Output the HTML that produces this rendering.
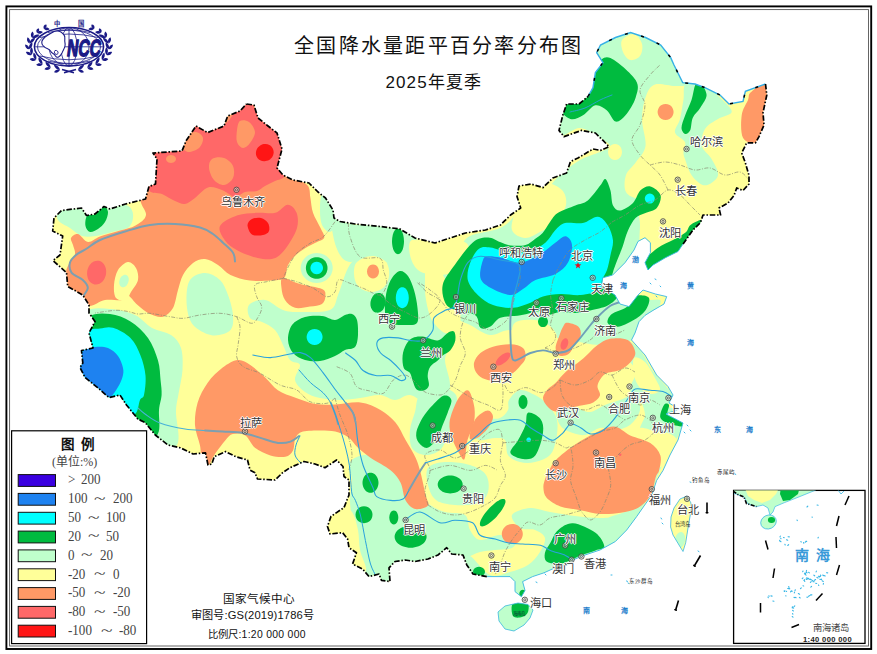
<!DOCTYPE html>
<html lang="zh-CN"><head><meta charset="utf-8"><title>全国降水量距平百分率分布图</title>
<style>
html,body{margin:0;padding:0;background:#fff;}
body{width:877px;height:654px;overflow:hidden;position:relative;font-family:"Liberation Sans",sans-serif;}
svg{position:absolute;left:0;top:0;}
.t{position:absolute;white-space:nowrap;color:#111;line-height:1;}
.city{position:absolute;white-space:nowrap;font-family:"Liberation Serif",serif;font-size:11.2px;line-height:1;color:#333;text-shadow:0 0 1px #fff,0 0 1px #fff,1px 0 0 #fff,-1px 0 0 #fff,0 1px 0 #fff,0 -1px 0 #fff;}
.sea{position:absolute;white-space:nowrap;font-size:7px;line-height:1;color:#1f80cc;font-weight:bold;}
.lg{position:absolute;white-space:nowrap;font-family:"Liberation Serif",serif;font-size:12.8px;line-height:1;color:#444;}
</style></head><body>
<svg width="877" height="654" viewBox="0 0 877 654">
<defs><clipPath id="cn"><path d="M246.5 104.0L254.0 105.0L258.0 118.0L268.0 126.0L277.0 133.0L282.0 149.0L277.0 168.0L283.0 175.0L293.0 180.0L309.0 183.0L318.0 192.0L325.5 198.0L333.0 210.0L334.0 218.0L340.0 221.5L355.0 224.0L380.0 226.5L400.0 229.0L415.0 238.0L435.0 243.0L450.0 238.0L465.5 233.0L485.5 230.0L500.5 225.0L510.5 215.0L520.7 208.0L517.0 196.5L519.0 186.0L531.0 184.0L543.0 187.6L552.8 178.0L566.6 173.0L570.4 161.7L578.0 158.0L593.0 149.0L600.5 150.4L609.0 146.7L603.0 140.4L595.4 133.0L581.6 130.4L564.0 136.6L559.0 130.4L562.8 115.3L566.6 104.0L579.0 104.0L588.0 96.5L593.0 87.7L595.4 72.6L603.0 62.6L596.7 52.6L600.5 45.0L615.5 37.5L630.6 32.5L645.6 37.5L660.7 45.0L670.7 57.6L674.0 65.0L682.7 82.6L695.0 84.0L705.0 87.6L720.0 95.0L729.0 104.0L743.0 101.4L745.4 91.4L765.5 84.0L766.8 95.0L763.0 112.7L764.0 125.0L759.0 136.6L755.5 142.8L746.7 142.8L741.7 153.0L745.4 163.0L749.0 175.4L749.0 184.0L743.0 190.5L736.7 188.0L734.0 195.5L728.0 203.0L719.0 208.0L720.6 215.0L703.0 215.0L700.5 222.6L693.0 230.0L683.0 244.0L678.0 251.5L665.4 257.7L653.0 265.0L648.0 270.0L645.0 262.7L650.4 252.7L650.4 242.7L645.0 237.7L638.0 241.4L634.0 250.0L625.0 262.7L612.7 275.0L602.7 277.8L601.5 286.6L615.0 295.0L620.0 304.0L629.0 306.6L638.0 295.0L643.0 290.0L655.4 294.0L666.7 296.6L664.0 304.0L653.0 310.4L645.0 315.4L639.0 321.7L635.0 333.0L631.5 340.0L645.0 355.0L656.6 375.0L668.0 386.5L673.0 395.0L669.0 403.0L679.0 409.0L666.0 414.0L683.0 423.0L678.0 440.0L670.0 455.0L663.0 470.5L656.6 480.5L651.8 495.0L644.0 506.0L636.8 516.4L626.7 530.0L615.4 541.5L600.0 550.0L585.0 555.0L575.0 559.0L570.0 564.0L555.0 567.8L544.0 572.8L532.6 576.6L522.6 581.6L525.0 590.4L521.4 596.7L515.0 591.6L515.0 581.6L510.0 576.6L490.0 576.6L486.8 576.6L473.0 574.0L466.8 565.0L463.0 555.0L451.7 554.0L446.7 547.7L438.0 555.0L428.0 559.0L415.0 561.5L405.0 560.0L395.0 561.5L389.0 567.8L390.0 581.6L381.5 580.4L379.0 574.0L369.0 576.6L362.6 569.0L352.6 564.0L356.4 552.8L349.0 547.7L347.6 539.0L342.6 532.7L330.0 534.0L327.5 526.4L331.0 516.4L344.0 507.6L349.0 495.0L349.0 480.0L344.0 476.5L343.0 466.5L336.6 460.0L325.0 467.7L315.0 464.0L304.0 461.5L290.0 467.7L282.6 472.7L275.0 480.0L257.5 479.0L255.0 472.7L250.0 470.0L247.5 460.0L235.6 456.6L225.6 451.6L214.3 456.6L211.8 464.0L208.0 465.0L205.5 452.8L193.0 454.0L180.4 447.8L168.0 445.0L155.3 435.0L145.3 422.7L137.8 419.0L126.5 405.0L120.0 395.0L109.0 397.6L97.6 387.6L85.0 377.5L80.0 367.5L82.8 363.0L81.5 350.5L93.0 348.0L89.0 333.0L95.0 321.5L89.0 313.0L89.0 305.0L82.8 295.0L67.7 286.5L66.5 272.6L53.0 260.6L60.0 255.0L62.7 236.0L52.7 231.0L54.0 218.0L61.5 210.5L81.5 208.0L86.5 215.5L95.0 214.0L104.0 206.5L110.0 209.0L125.5 204.0L145.5 199.0L149.0 186.5L155.5 184.0L157.0 159.0L153.0 153.0L182.0 151.0L186.0 141.0L196.0 126.0L207.6 132.6L224.0 126.0L227.7 116.0L240.0 111.0L246.5 104.0ZM518.0 603.0L528.0 604.5L533.0 610.0L530.0 618.0L524.0 625.0L514.0 631.0L505.0 629.0L499.0 621.0L498.0 612.0L505.0 606.0ZM687.0 496.0L691.0 503.0L690.7 512.6L688.0 528.0L685.7 542.7L683.0 551.5L679.0 545.0L673.0 535.0L670.6 527.0L671.0 517.0L674.0 508.0L680.0 499.0Z"/></clipPath><clipPath id="ins"><rect x="734" y="490.5" width="131" height="153"/></clipPath></defs>
<rect width="877" height="654" fill="#fff"/>
<g clip-path="url(#cn)">
<rect x="40" y="20" width="740" height="620" fill="#ffff99"/>
<path d="M249.0 305.0C251.5 302.0 259.3 299.2 265.0 300.0C270.7 300.8 277.2 308.0 283.0 310.0C288.8 312.0 292.2 312.0 300.0 312.0C307.8 312.0 323.7 312.8 330.0 310.0C336.3 307.2 335.5 300.8 338.0 295.0C340.5 289.2 342.7 280.5 345.0 275.0C347.3 269.5 348.7 265.3 352.0 262.0C355.3 258.7 360.3 255.0 365.0 255.0C369.7 255.0 375.0 260.8 380.0 262.0C385.0 263.2 390.0 262.7 395.0 262.0C400.0 261.3 405.0 258.0 410.0 258.0C415.0 258.0 421.7 259.2 425.0 262.0C428.3 264.8 429.5 268.7 430.0 275.0C430.5 281.3 427.7 292.5 428.0 300.0C428.3 307.5 429.2 315.0 432.0 320.0C434.8 325.0 442.0 325.8 445.0 330.0C448.0 334.2 450.0 340.0 450.0 345.0C450.0 350.0 445.0 353.3 445.0 360.0C445.0 366.7 450.0 376.7 450.0 385.0C450.0 393.3 447.5 404.2 445.0 410.0C442.5 415.8 438.3 420.8 435.0 420.0C431.7 419.2 429.2 409.2 425.0 405.0C420.8 400.8 415.0 395.8 410.0 395.0C405.0 394.2 400.0 400.0 395.0 400.0C390.0 400.0 385.8 395.3 380.0 395.0C374.2 394.7 366.7 397.2 360.0 398.0C353.3 398.8 346.7 400.0 340.0 400.0C333.3 400.0 325.8 399.3 320.0 398.0C314.2 396.7 309.2 395.0 305.0 392.0C300.8 389.0 295.8 384.5 295.0 380.0C294.2 375.5 300.8 368.3 300.0 365.0C299.2 361.7 292.8 363.3 290.0 360.0C287.2 356.7 285.5 350.0 283.0 345.0C280.5 340.0 278.5 333.8 275.0 330.0C271.5 326.2 266.2 324.0 262.0 322.0C257.8 320.0 252.2 320.8 250.0 318.0C247.8 315.2 246.5 308.0 249.0 305.0Z" fill="#bfffcc"/>
<path d="M332.7 268.0C332.7 270.5 331.9 273.3 330.6 275.5C329.2 277.7 327.0 279.7 324.7 281.0C322.4 282.2 319.4 283.0 316.7 283.0C314.0 283.0 311.0 282.2 308.7 281.0C306.4 279.7 304.2 277.7 302.8 275.5C301.5 273.3 300.7 270.5 300.7 268.0C300.7 265.5 301.5 262.7 302.8 260.5C304.2 258.3 306.4 256.3 308.7 255.0C311.0 253.8 314.0 253.0 316.7 253.0C319.4 253.0 322.4 253.8 324.7 255.0C327.0 256.3 329.2 258.3 330.6 260.5C331.9 262.7 332.7 265.5 332.7 268.0Z" fill="#bfffcc"/>
<path d="M322.0 195.0C324.0 194.2 329.7 200.5 332.0 205.0C334.3 209.5 336.3 217.5 336.0 222.0C335.7 226.5 332.3 231.5 330.0 232.0C327.7 232.5 323.7 228.7 322.0 225.0C320.3 221.3 320.0 215.0 320.0 210.0C320.0 205.0 320.0 195.8 322.0 195.0Z" fill="#bfffcc"/>
<path d="M330.0 200.0C332.0 197.8 336.7 217.7 345.0 222.0C353.3 226.3 369.2 224.3 380.0 226.0C390.8 227.7 403.7 228.8 410.0 232.0C416.3 235.2 418.0 240.3 418.0 245.0C418.0 249.7 413.0 256.2 410.0 260.0C407.0 263.8 404.2 267.7 400.0 268.0C395.8 268.3 390.8 263.7 385.0 262.0C379.2 260.3 370.8 258.0 365.0 258.0C359.2 258.0 354.2 262.5 350.0 262.0C345.8 261.5 342.8 259.5 340.0 255.0C337.2 250.5 334.7 244.2 333.0 235.0C331.3 225.8 328.0 202.2 330.0 200.0Z" fill="#bfffcc"/>
<path d="M470.0 236.0C476.7 232.7 492.5 231.5 500.0 228.0C507.5 224.5 511.7 219.7 515.0 215.0C518.3 210.3 515.0 204.2 520.0 200.0C525.0 195.8 538.3 194.2 545.0 190.0C551.7 185.8 554.2 180.0 560.0 175.0C565.8 170.0 573.3 163.8 580.0 160.0C586.7 156.2 595.0 154.3 600.0 152.0C605.0 149.7 610.0 148.3 610.0 146.0C610.0 143.7 605.0 141.0 600.0 138.0C595.0 135.0 586.7 128.5 580.0 128.0C573.3 127.5 564.0 138.0 560.0 135.0C556.0 132.0 554.3 115.8 556.0 110.0C557.7 104.2 564.3 103.3 570.0 100.0C575.7 96.7 585.7 96.7 590.0 90.0C594.3 83.3 594.3 68.0 596.0 60.0C597.7 52.0 594.3 47.3 600.0 42.0C605.7 36.7 619.2 27.5 630.0 28.0C640.8 28.5 657.0 38.3 665.0 45.0C673.0 51.7 674.5 61.5 678.0 68.0C681.5 74.5 686.5 81.0 686.0 84.0C685.5 87.0 680.2 85.9 675.0 86.0C669.8 86.1 659.8 82.8 655.0 84.5C650.2 86.2 648.2 90.2 646.0 96.0C643.8 101.8 642.1 110.7 642.0 119.0C641.9 127.3 646.5 138.8 645.5 146.0C644.5 153.2 639.2 157.2 636.0 162.0C632.8 166.8 627.7 170.0 626.0 175.0C624.3 180.0 623.8 188.0 626.0 192.0C628.2 196.0 633.3 197.7 639.0 199.0C644.7 200.3 655.2 197.3 660.0 200.0C664.8 202.7 668.0 210.0 668.0 215.0C668.0 220.0 663.0 225.8 660.0 230.0C657.0 234.2 653.3 235.0 650.0 240.0C646.7 245.0 644.2 251.7 640.0 260.0C635.8 268.3 625.0 283.3 625.0 290.0C625.0 296.7 634.2 298.3 640.0 300.0C645.8 301.7 657.5 298.0 660.0 300.0C662.5 302.0 658.3 308.3 655.0 312.0C651.7 315.7 643.8 317.3 640.0 322.0C636.2 326.7 638.7 336.2 632.0 340.0C625.3 343.8 610.3 345.0 600.0 345.0C589.7 345.0 580.0 341.7 570.0 340.0C560.0 338.3 550.0 336.7 540.0 335.0C530.0 333.3 518.3 330.0 510.0 330.0C501.7 330.0 496.7 335.8 490.0 335.0C483.3 334.2 476.7 328.3 470.0 325.0C463.3 321.7 455.3 319.2 450.0 315.0C444.7 310.8 440.0 305.8 438.0 300.0C436.0 294.2 436.3 286.3 438.0 280.0C439.7 273.7 444.3 267.3 448.0 262.0C451.7 256.7 456.3 252.3 460.0 248.0C463.7 243.7 463.3 239.3 470.0 236.0Z" fill="#bfffcc"/>
<path d="M686.0 84.0C689.6 81.8 698.5 82.9 705.0 86.0C711.5 89.1 720.6 98.3 725.0 102.7C729.4 107.1 732.7 109.9 731.5 112.6C730.3 115.3 722.4 116.3 718.0 119.0C713.6 121.7 707.7 124.5 705.0 129.0C702.3 133.4 700.6 140.7 701.7 145.7C702.8 150.7 708.9 154.1 711.6 159.0C714.3 163.9 719.1 171.0 718.0 175.4C716.9 179.8 709.4 185.3 705.0 185.3C700.6 185.3 695.1 179.8 691.8 175.4C688.5 171.0 686.4 162.9 685.0 159.0C683.6 155.1 683.5 154.8 683.5 152.0C683.5 149.2 686.4 145.3 685.0 142.0C683.6 138.7 675.8 136.2 675.0 132.4C674.2 128.6 678.6 124.5 680.0 119.0C681.4 113.5 682.5 105.2 683.5 99.4C684.5 93.6 682.4 86.2 686.0 84.0Z" fill="#bfffcc"/>
<path d="M622.0 40.0C623.8 37.0 630.7 33.3 634.0 34.0C637.3 34.7 641.0 40.3 642.0 44.0C643.0 47.7 642.0 53.3 640.0 56.0C638.0 58.7 632.8 60.7 630.0 60.0C627.2 59.3 624.3 55.3 623.0 52.0C621.7 48.7 620.2 43.0 622.0 40.0Z" fill="#ffff99"/>
<path d="M520.0 180.0C524.7 177.8 538.0 180.3 545.0 182.0C552.0 183.7 558.5 186.2 562.0 190.0C565.5 193.8 567.0 199.7 566.0 205.0C565.0 210.3 560.3 217.5 556.0 222.0C551.7 226.5 545.2 229.3 540.0 232.0C534.8 234.7 529.7 238.3 525.0 238.0C520.3 237.7 513.7 234.7 512.0 230.0C510.3 225.3 514.2 215.8 515.0 210.0C515.8 204.2 516.2 200.0 517.0 195.0C517.8 190.0 515.3 182.2 520.0 180.0Z" fill="#ffff99"/>
<path d="M622.0 152.0C622.0 153.3 621.6 154.8 621.1 156.0C620.5 157.2 619.5 158.3 618.5 158.9C617.5 159.6 616.2 160.0 615.0 160.0C613.8 160.0 612.5 159.6 611.5 158.9C610.5 158.3 609.5 157.2 608.9 156.0C608.4 154.8 608.0 153.3 608.0 152.0C608.0 150.7 608.4 149.2 608.9 148.0C609.5 146.8 610.5 145.7 611.5 145.1C612.5 144.4 613.8 144.0 615.0 144.0C616.2 144.0 617.5 144.4 618.5 145.1C619.5 145.7 620.5 146.8 621.1 148.0C621.6 149.2 622.0 150.7 622.0 152.0Z" fill="#ffff99"/>
<path d="M640.0 205.0C643.3 200.5 653.3 198.0 660.0 198.0C666.7 198.0 673.3 202.2 680.0 205.0C686.7 207.8 698.3 211.2 700.0 215.0C701.7 218.8 693.7 223.8 690.0 228.0C686.3 232.2 683.0 236.3 678.0 240.0C673.0 243.7 665.0 247.3 660.0 250.0C655.0 252.7 651.3 256.8 648.0 256.0C644.7 255.2 641.3 250.2 640.0 245.0C638.7 239.8 640.0 231.7 640.0 225.0C640.0 218.3 636.7 209.5 640.0 205.0Z" fill="#ffff99"/>
<path d="M625.0 340.0C628.7 340.0 635.5 345.0 640.0 350.0C644.5 355.0 648.0 364.3 652.0 370.0C656.0 375.7 660.5 379.7 664.0 384.0C667.5 388.3 672.3 392.3 673.0 396.0C673.7 399.7 667.2 403.7 668.0 406.0C668.8 408.3 678.0 408.5 678.0 410.0C678.0 411.5 667.3 412.7 668.0 415.0C668.7 417.3 680.7 419.8 682.0 424.0C683.3 428.2 678.3 434.8 676.0 440.0C673.7 445.2 670.7 450.0 668.0 455.0C665.3 460.0 662.3 465.0 660.0 470.0C657.7 475.0 655.7 480.8 654.0 485.0C652.3 489.2 652.3 490.8 650.0 495.0C647.7 499.2 644.2 504.2 640.0 510.0C635.8 515.8 629.7 524.3 625.0 530.0C620.3 535.7 616.2 540.7 612.0 544.0C607.8 547.3 603.7 550.7 600.0 550.0C596.3 549.3 589.2 545.0 590.0 540.0C590.8 535.0 599.2 524.7 605.0 520.0C610.8 515.3 619.2 514.5 625.0 512.0C630.8 509.5 635.8 508.7 640.0 505.0C644.2 501.3 647.3 495.0 650.0 490.0C652.7 485.0 654.3 480.8 656.0 475.0C657.7 469.2 661.0 460.3 660.0 455.0C659.0 449.7 653.3 447.2 650.0 443.0C646.7 438.8 640.8 434.7 640.0 430.0C639.2 425.3 645.0 420.0 645.0 415.0C645.0 410.0 642.5 404.2 640.0 400.0C637.5 395.8 630.7 394.7 630.0 390.0C629.3 385.3 636.3 377.0 636.0 372.0C635.7 367.0 631.0 363.7 628.0 360.0C625.0 356.3 618.5 353.3 618.0 350.0C617.5 346.7 621.3 340.0 625.0 340.0Z" fill="#bfffcc"/>
<path d="M634.0 358.0C635.8 355.8 641.5 358.7 645.0 362.0C648.5 365.3 652.5 373.3 655.0 378.0C657.5 382.7 660.8 387.3 660.0 390.0C659.2 392.7 653.3 394.3 650.0 394.0C646.7 393.7 642.7 391.2 640.0 388.0C637.3 384.8 635.0 380.0 634.0 375.0C633.0 370.0 632.2 360.2 634.0 358.0Z" fill="#ffff99"/>
<path d="M640.0 428.0C642.5 426.8 650.3 430.2 655.0 431.0C659.7 431.8 664.3 431.5 668.0 433.0C671.7 434.5 676.0 436.8 677.0 440.0C678.0 443.2 675.7 448.3 674.0 452.0C672.3 455.7 669.5 459.5 667.0 462.0C664.5 464.5 661.0 468.0 659.0 467.0C657.0 466.0 656.8 459.5 655.0 456.0C653.2 452.5 650.5 449.0 648.0 446.0C645.5 443.0 641.3 441.0 640.0 438.0C638.7 435.0 637.5 429.2 640.0 428.0Z" fill="#ffff99"/>
<path d="M509.0 400.0C511.0 396.7 515.7 390.8 520.0 390.0C524.3 389.2 530.3 392.5 535.0 395.0C539.7 397.5 544.3 400.8 548.0 405.0C551.7 409.2 555.7 414.2 557.0 420.0C558.3 425.8 557.2 434.2 556.0 440.0C554.8 445.8 553.5 451.3 550.0 455.0C546.5 458.7 540.0 460.8 535.0 462.0C530.0 463.2 524.5 463.2 520.0 462.0C515.5 460.8 510.5 458.7 508.0 455.0C505.5 451.3 507.2 442.8 505.0 440.0C502.8 437.2 499.2 438.0 495.0 438.0C490.8 438.0 484.0 441.0 480.0 440.0C476.0 439.0 470.2 435.3 471.0 432.0C471.8 428.7 480.2 422.3 485.0 420.0C489.8 417.7 496.2 419.7 500.0 418.0C503.8 416.3 506.5 413.0 508.0 410.0C509.5 407.0 507.0 403.3 509.0 400.0Z" fill="#bfffcc"/>
<path d="M557.0 410.0C559.5 407.2 569.5 407.7 575.0 408.0C580.5 408.3 585.0 412.5 590.0 412.0C595.0 411.5 600.0 407.0 605.0 405.0C610.0 403.0 615.0 401.7 620.0 400.0C625.0 398.3 631.7 393.3 635.0 395.0C638.3 396.7 640.8 405.0 640.0 410.0C639.2 415.0 634.2 421.7 630.0 425.0C625.8 428.3 620.0 429.5 615.0 430.0C610.0 430.5 605.0 427.2 600.0 428.0C595.0 428.8 590.0 434.3 585.0 435.0C580.0 435.7 574.2 433.7 570.0 432.0C565.8 430.3 562.2 428.7 560.0 425.0C557.8 421.3 554.5 412.8 557.0 410.0Z" fill="#bfffcc"/>
<path d="M420.0 395.0C424.2 391.0 434.0 388.0 440.0 388.0C446.0 388.0 453.5 390.5 456.0 395.0C458.5 399.5 456.3 408.3 455.0 415.0C453.7 421.7 450.5 429.2 448.0 435.0C445.5 440.8 443.8 446.7 440.0 450.0C436.2 453.3 429.7 455.3 425.0 455.0C420.3 454.7 414.5 452.2 412.0 448.0C409.5 443.8 409.5 436.0 410.0 430.0C410.5 424.0 413.3 417.8 415.0 412.0C416.7 406.2 415.8 399.0 420.0 395.0Z" fill="#bfffcc"/>
<path d="M428.0 468.0C430.8 464.2 438.0 462.5 445.0 462.0C452.0 461.5 463.2 462.8 470.0 465.0C476.8 467.2 483.0 470.5 486.0 475.0C489.0 479.5 489.3 487.3 488.0 492.0C486.7 496.7 483.5 500.8 478.0 503.0C472.5 505.2 462.0 505.5 455.0 505.0C448.0 504.5 440.5 503.3 436.0 500.0C431.5 496.7 429.3 490.3 428.0 485.0C426.7 479.7 425.2 471.8 428.0 468.0Z" fill="#bfffcc"/>
<path d="M350.0 462.0C353.0 457.8 362.5 453.7 370.0 455.0C377.5 456.3 388.3 464.2 395.0 470.0C401.7 475.8 404.2 484.2 410.0 490.0C415.8 495.8 424.2 501.3 430.0 505.0C435.8 508.7 439.2 510.3 445.0 512.0C450.8 513.7 460.8 512.0 465.0 515.0C469.2 518.0 467.5 525.8 470.0 530.0C472.5 534.2 475.0 539.2 480.0 540.0C485.0 540.8 494.2 535.0 500.0 535.0C505.8 535.0 513.0 537.8 515.0 540.0C517.0 542.2 515.3 546.3 512.0 548.0C508.7 549.7 500.3 549.3 495.0 550.0C489.7 550.7 485.0 550.7 480.0 552.0C475.0 553.3 470.0 556.7 465.0 558.0C460.0 559.3 454.2 558.8 450.0 560.0C445.8 561.2 445.0 564.2 440.0 565.0C435.0 565.8 427.5 564.2 420.0 565.0C412.5 565.8 400.8 566.7 395.0 570.0C389.2 573.3 390.0 583.3 385.0 585.0C380.0 586.7 370.8 584.2 365.0 580.0C359.2 575.8 351.7 566.7 350.0 560.0C348.3 553.3 354.7 546.7 355.0 540.0C355.3 533.3 352.8 526.7 352.0 520.0C351.2 513.3 350.0 506.7 350.0 500.0C350.0 493.3 352.0 486.3 352.0 480.0C352.0 473.7 347.0 466.2 350.0 462.0Z" fill="#bfffcc"/>
<path d="M326.0 505.0C328.7 501.3 335.7 501.8 340.0 503.0C344.3 504.2 349.0 507.5 352.0 512.0C355.0 516.5 356.7 523.7 358.0 530.0C359.3 536.3 358.7 543.3 360.0 550.0C361.3 556.7 366.8 565.8 366.0 570.0C365.2 574.2 358.5 575.8 355.0 575.0C351.5 574.2 348.8 570.0 345.0 565.0C341.2 560.0 335.5 551.7 332.0 545.0C328.5 538.3 325.0 531.7 324.0 525.0C323.0 518.3 323.3 508.7 326.0 505.0Z" fill="#ffff99"/>
<path d="M512.0 515.0C513.7 511.7 523.7 508.5 530.0 508.0C536.3 507.5 542.5 510.7 550.0 512.0C557.5 513.3 566.7 515.0 575.0 516.0C583.3 517.0 591.7 518.0 600.0 518.0C608.3 518.0 618.3 517.3 625.0 516.0C631.7 514.7 635.8 512.7 640.0 510.0C644.2 507.3 646.7 500.8 650.0 500.0C653.3 499.2 661.7 500.0 660.0 505.0C658.3 510.0 646.7 523.3 640.0 530.0C633.3 536.7 626.7 540.8 620.0 545.0C613.3 549.2 606.7 552.2 600.0 555.0C593.3 557.8 586.7 559.5 580.0 562.0C573.3 564.5 566.7 567.3 560.0 570.0C553.3 572.7 545.8 575.5 540.0 578.0C534.2 580.5 527.0 581.3 525.0 585.0C523.0 588.7 529.7 597.5 528.0 600.0C526.3 602.5 518.0 602.5 515.0 600.0C512.0 597.5 513.3 588.3 510.0 585.0C506.7 581.7 499.2 580.8 495.0 580.0C490.8 579.2 489.2 580.8 485.0 580.0C480.8 579.2 473.8 578.0 470.0 575.0C466.2 572.0 462.0 565.2 462.0 562.0C462.0 558.8 465.3 553.8 470.0 556.0C474.7 558.2 483.3 572.3 490.0 575.0C496.7 577.7 503.7 573.7 510.0 572.0C516.3 570.3 523.0 568.3 528.0 565.0C533.0 561.7 537.2 556.5 540.0 552.0C542.8 547.5 545.8 541.7 545.0 538.0C544.2 534.3 539.2 531.7 535.0 530.0C530.8 528.3 523.8 530.5 520.0 528.0C516.2 525.5 510.3 518.3 512.0 515.0Z" fill="#bfffcc"/>
<path d="M495.0 600.0L536.0 600.0L536.0 634.0L495.0 634.0Z" fill="#bfffcc"/>
<path d="M672.0 505.0C674.5 500.5 682.7 497.2 686.0 498.0C689.3 498.8 691.3 504.7 692.0 510.0C692.7 515.3 691.3 524.2 690.0 530.0C688.7 535.8 686.3 543.7 684.0 545.0C681.7 546.3 678.2 541.3 676.0 538.0C673.8 534.7 671.7 530.5 671.0 525.0C670.3 519.5 669.5 509.5 672.0 505.0Z" fill="#ffff99"/>
<path d="M684.9 540.9C684.7 542.2 684.2 543.6 683.6 544.7C683.0 545.8 682.1 546.7 681.3 547.3C680.4 547.8 679.4 548.0 678.6 547.9C677.8 547.7 676.9 547.2 676.3 546.4C675.7 545.6 675.3 544.4 675.0 543.2C674.8 542.0 674.8 540.4 675.1 539.1C675.3 537.8 675.8 536.4 676.4 535.3C677.0 534.2 677.9 533.3 678.7 532.7C679.6 532.2 680.6 532.0 681.4 532.1C682.2 532.3 683.1 532.8 683.7 533.6C684.3 534.4 684.7 535.6 685.0 536.8C685.2 538.0 685.2 539.6 684.9 540.9Z" fill="#bfffcc"/>
<path d="M516.0 322.0C519.8 319.8 529.3 319.3 535.0 320.0C540.7 320.7 546.3 323.0 550.0 326.0C553.7 329.0 557.3 334.3 557.0 338.0C556.7 341.7 552.5 346.0 548.0 348.0C543.5 350.0 535.0 350.5 530.0 350.0C525.0 349.5 521.0 347.8 518.0 345.0C515.0 342.2 512.3 336.8 512.0 333.0C511.7 329.2 512.2 324.2 516.0 322.0Z" fill="#ffff99"/>
<path d="M412.0 240.0C416.2 238.2 427.8 244.0 435.0 244.0C442.2 244.0 449.5 239.8 455.0 240.0C460.5 240.2 466.2 241.7 468.0 245.0C469.8 248.3 468.2 255.5 466.0 260.0C463.8 264.5 460.2 269.5 455.0 272.0C449.8 274.5 441.2 275.3 435.0 275.0C428.8 274.7 422.2 273.3 418.0 270.0C413.8 266.7 411.0 260.0 410.0 255.0C409.0 250.0 407.8 241.8 412.0 240.0Z" fill="#ffff99"/>
<path d="M357.0 262.0C360.0 259.0 367.2 256.0 372.0 256.0C376.8 256.0 383.2 258.7 386.0 262.0C388.8 265.3 389.5 271.7 389.0 276.0C388.5 280.3 386.2 285.3 383.0 288.0C379.8 290.7 374.2 292.3 370.0 292.0C365.8 291.7 360.7 289.0 358.0 286.0C355.3 283.0 354.2 278.0 354.0 274.0C353.8 270.0 354.0 265.0 357.0 262.0Z" fill="#ffff99"/>
<path d="M427.0 262.0C429.5 260.3 436.2 265.3 440.0 270.0C443.8 274.7 446.7 283.3 450.0 290.0C453.3 296.7 458.7 303.3 460.0 310.0C461.3 316.7 460.5 326.2 458.0 330.0C455.5 333.8 449.3 334.7 445.0 333.0C440.7 331.3 435.2 325.5 432.0 320.0C428.8 314.5 427.2 306.7 426.0 300.0C424.8 293.3 424.8 286.3 425.0 280.0C425.2 273.7 424.5 263.7 427.0 262.0Z" fill="#ffff99"/>
<path d="M60.0 208.0C63.7 205.5 72.5 205.7 80.0 205.0C87.5 204.3 97.3 204.0 105.0 204.0C112.7 204.0 121.3 203.3 126.0 205.0C130.7 206.7 132.5 210.3 133.0 214.0C133.5 217.7 132.5 224.0 129.0 227.0C125.5 230.0 117.5 230.5 112.0 232.0C106.5 233.5 101.0 235.3 96.0 236.0C91.0 236.7 86.3 237.3 82.0 236.0C77.7 234.7 74.0 230.7 70.0 228.0C66.0 225.3 59.7 223.3 58.0 220.0C56.3 216.7 56.3 210.5 60.0 208.0Z" fill="#bfffcc"/>
<path d="M85.0 312.0C91.7 306.8 101.7 308.5 110.0 309.0C118.3 309.5 128.0 311.8 135.0 315.0C142.0 318.2 146.0 324.7 152.0 328.0C158.0 331.3 166.2 331.7 171.0 335.0C175.8 338.3 179.1 342.2 181.0 348.0C182.9 353.8 182.9 362.3 182.5 370.0C182.1 377.7 179.6 387.0 178.5 394.0C177.4 401.0 176.2 403.5 176.0 412.0C175.8 420.5 181.3 438.7 177.0 445.0C172.7 451.3 161.2 455.8 150.0 450.0C138.8 444.2 122.5 420.8 110.0 410.0C97.5 399.2 81.7 396.7 75.0 385.0C68.3 373.3 68.3 352.2 70.0 340.0C71.7 327.8 78.3 317.2 85.0 312.0Z" fill="#bfffcc"/>
<path d="M190.0 280.0C193.1 275.5 200.0 273.0 205.0 273.0C210.0 273.0 216.2 276.3 220.0 280.0C223.8 283.7 225.8 289.2 228.0 295.0C230.2 300.8 232.6 309.2 233.0 315.0C233.4 320.8 233.5 326.6 230.5 330.0C227.5 333.4 220.1 335.4 215.0 335.5C209.9 335.6 204.2 333.1 200.0 330.5C195.8 327.9 192.2 325.1 190.0 320.0C187.8 314.9 186.5 306.7 186.5 300.0C186.5 293.3 186.9 284.5 190.0 280.0Z" fill="#bfffcc"/>
<path d="M127.7 281.7C127.3 282.8 126.6 284.0 125.9 284.8C125.1 285.6 124.2 286.3 123.3 286.6C122.4 286.9 121.4 286.9 120.6 286.6C119.8 286.3 119.1 285.6 118.6 284.8C118.1 284.0 117.8 282.9 117.7 281.8C117.7 280.7 117.9 279.4 118.3 278.3C118.7 277.2 119.4 276.0 120.1 275.2C120.9 274.4 121.8 273.7 122.7 273.4C123.6 273.1 124.6 273.1 125.4 273.4C126.2 273.7 126.9 274.4 127.4 275.2C127.9 276.0 128.2 277.1 128.3 278.2C128.3 279.3 128.1 280.6 127.7 281.7Z" fill="#bfffcc"/>
<path d="M140.0 195.0C140.7 184.2 140.0 163.3 150.0 150.0C160.0 136.7 183.3 124.2 200.0 115.0C216.7 105.8 235.0 89.2 250.0 95.0C265.0 100.8 282.3 136.5 290.0 150.0C297.7 163.5 293.0 170.0 296.0 176.0C299.0 182.0 305.6 182.4 308.0 186.0C310.4 189.6 309.6 193.2 310.4 197.7C311.2 202.1 311.3 207.7 313.0 212.7C314.7 217.7 318.5 223.6 320.4 227.8C322.3 232.0 325.0 235.3 324.2 237.8C323.4 240.3 318.5 241.1 315.4 242.8C312.3 244.5 308.8 245.8 305.4 247.9C302.0 250.0 298.2 252.5 295.3 255.4C292.4 258.3 289.7 261.6 287.8 265.4C285.9 269.2 287.0 275.5 284.0 278.0C281.0 280.5 275.7 280.1 270.0 280.5C264.3 280.9 256.6 281.4 250.0 280.5C243.4 279.6 235.8 277.6 230.5 275.0C225.2 272.4 222.2 267.7 218.0 265.0C213.8 262.3 209.2 259.3 205.0 259.0C200.8 258.7 196.7 260.3 193.0 263.0C189.3 265.7 185.5 270.5 183.0 275.0C180.5 279.5 179.7 284.5 178.0 290.0C176.3 295.5 175.5 303.6 173.0 308.0C170.5 312.4 166.8 315.7 163.0 316.7C159.2 317.7 154.2 315.9 150.0 314.0C145.8 312.1 141.3 308.2 137.6 305.0C133.9 301.8 130.2 295.8 127.6 295.0C125.0 294.2 125.8 299.2 122.0 300.0C118.2 300.8 110.5 299.0 105.0 300.0C99.5 301.0 92.8 306.7 89.0 306.0C85.2 305.3 85.5 299.3 82.0 296.0C78.5 292.7 70.7 290.0 68.0 286.0C65.3 282.0 65.7 276.0 66.0 272.0C66.3 268.0 68.5 265.0 70.0 262.0C71.5 259.0 74.5 256.8 75.0 254.0C75.5 251.2 73.7 247.7 73.0 245.0C72.3 242.3 70.2 239.8 71.0 238.0C71.8 236.2 75.2 233.3 78.0 234.0C80.8 234.7 84.3 241.6 88.0 242.0C91.7 242.4 94.7 238.4 100.0 236.5C105.3 234.6 114.1 232.3 120.0 230.5C125.9 228.7 131.2 228.0 135.5 225.4C139.8 222.8 145.2 220.1 146.0 215.0C146.8 209.9 139.3 205.8 140.0 195.0Z" fill="#ff9966"/>
<path d="M128.0 262.0C131.0 261.7 134.3 265.0 136.0 268.0C137.7 271.0 138.8 276.0 138.0 280.0C137.2 284.0 133.0 288.7 131.0 292.0C129.0 295.3 128.5 299.0 126.0 300.0C123.5 301.0 118.0 300.5 116.0 298.0C114.0 295.5 113.7 289.7 114.0 285.0C114.3 280.3 115.7 273.8 118.0 270.0C120.3 266.2 125.0 262.3 128.0 262.0Z" fill="#ffff99"/>
<path d="M128.2 282.5C127.9 283.6 127.2 284.6 126.6 285.4C125.9 286.1 125.0 286.8 124.2 287.1C123.4 287.3 122.5 287.4 121.8 287.1C121.1 286.9 120.4 286.3 120.0 285.5C119.5 284.8 119.3 283.7 119.2 282.7C119.2 281.7 119.4 280.5 119.8 279.5C120.1 278.4 120.8 277.4 121.4 276.6C122.1 275.9 123.0 275.2 123.8 274.9C124.6 274.7 125.5 274.6 126.2 274.9C126.9 275.1 127.6 275.7 128.0 276.5C128.5 277.2 128.7 278.3 128.8 279.3C128.8 280.3 128.6 281.5 128.2 282.5Z" fill="#bfffcc"/>
<path d="M148.0 188.0C146.0 180.7 143.8 156.3 150.0 150.0C156.2 143.7 177.0 154.7 185.0 150.0C193.0 145.3 191.3 126.3 198.0 122.0C204.7 117.7 217.2 128.0 225.0 124.0C232.8 120.0 238.8 98.7 245.0 98.0C251.2 97.3 256.2 114.7 262.0 120.0C267.8 125.3 276.0 125.0 280.0 130.0C284.0 135.0 286.0 143.7 286.0 150.0C286.0 156.3 280.3 163.5 280.0 168.0C279.7 172.5 284.8 174.8 284.0 177.0C283.2 179.2 278.2 179.5 275.0 181.0C271.8 182.5 268.0 184.3 265.0 186.0C262.0 187.7 260.3 190.0 257.0 191.0C253.7 192.0 248.7 191.0 245.0 192.0C241.3 193.0 238.8 197.3 235.0 197.0C231.2 196.7 226.5 191.6 222.0 190.0C217.5 188.4 212.5 186.2 208.0 187.5C203.5 188.8 198.8 195.2 195.0 198.0C191.2 200.8 188.3 203.5 185.0 204.0C181.7 204.5 178.8 202.7 175.0 201.0C171.2 199.3 166.5 196.2 162.0 194.0C157.5 191.8 150.0 195.3 148.0 188.0Z" fill="#ff6868"/>
<path d="M240.0 121.0C242.0 119.7 246.5 120.2 249.0 122.0C251.5 123.8 254.8 128.5 255.0 132.0C255.2 135.5 252.0 140.3 250.0 143.0C248.0 145.7 245.2 148.2 243.0 148.0C240.8 147.8 238.0 145.0 237.0 142.0C236.0 139.0 236.5 133.5 237.0 130.0C237.5 126.5 238.0 122.3 240.0 121.0Z" fill="#ff9966"/>
<path d="M212.0 159.0C214.5 157.3 220.5 156.8 224.0 158.0C227.5 159.2 231.5 162.7 233.0 166.0C234.5 169.3 234.5 174.8 233.0 178.0C231.5 181.2 227.2 184.7 224.0 185.0C220.8 185.3 216.5 182.8 214.0 180.0C211.5 177.2 209.3 171.5 209.0 168.0C208.7 164.5 209.5 160.7 212.0 159.0Z" fill="#ff9966"/>
<path d="M186.0 136.0C188.2 133.7 193.2 131.7 196.0 132.0C198.8 132.3 202.5 135.3 203.0 138.0C203.5 140.7 201.5 145.7 199.0 148.0C196.5 150.3 190.7 152.3 188.0 152.0C185.3 151.7 183.3 148.7 183.0 146.0C182.7 143.3 183.8 138.3 186.0 136.0Z" fill="#ff9966"/>
<path d="M176.0 159.0C176.0 159.7 175.7 160.4 175.3 161.0C174.9 161.6 174.2 162.1 173.5 162.5C172.8 162.8 171.8 163.0 171.0 163.0C170.2 163.0 169.2 162.8 168.5 162.5C167.8 162.1 167.1 161.6 166.7 161.0C166.3 160.4 166.0 159.7 166.0 159.0C166.0 158.3 166.3 157.6 166.7 157.0C167.1 156.4 167.8 155.9 168.5 155.5C169.2 155.2 170.2 155.0 171.0 155.0C171.8 155.0 172.8 155.2 173.5 155.5C174.2 155.9 174.9 156.4 175.3 157.0C175.7 157.6 176.0 158.3 176.0 159.0Z" fill="#ff9966"/>
<path d="M272.6 148.2C273.3 149.4 273.7 151.0 273.7 152.5C273.6 153.9 273.1 155.6 272.4 156.8C271.6 158.1 270.3 159.3 269.1 160.1C267.8 160.8 266.1 161.3 264.6 161.3C263.1 161.4 261.4 161.0 260.2 160.3C258.9 159.6 257.7 158.4 257.0 157.2C256.3 156.0 255.9 154.4 255.9 152.9C256.0 151.5 256.5 149.8 257.2 148.6C258.0 147.3 259.3 146.1 260.6 145.3C261.8 144.6 263.5 144.1 265.0 144.1C266.5 144.0 268.2 144.4 269.4 145.1C270.7 145.8 271.9 147.0 272.6 148.2Z" fill="#ff1515"/>
<path d="M220.0 226.0C222.1 221.8 231.3 217.5 237.6 215.3C243.9 213.1 251.4 213.2 257.7 212.8C264.0 212.4 270.3 214.2 275.3 212.8C280.3 211.5 284.2 204.7 287.8 204.7C291.4 204.7 295.1 208.9 296.6 212.8C298.1 216.7 298.5 222.6 297.0 228.0C295.5 233.4 291.4 240.4 287.8 245.4C284.2 250.4 280.3 255.9 275.3 258.0C270.3 260.1 264.0 259.3 257.7 258.0C251.4 256.7 243.0 253.3 237.6 250.4C232.2 247.5 227.9 244.5 225.0 240.4C222.1 236.3 217.9 230.2 220.0 226.0Z" fill="#ff6868"/>
<path d="M247.5 225.0C247.5 222.4 249.8 220.2 252.0 219.0C254.2 217.8 258.3 217.3 261.0 218.0C263.7 218.7 266.7 220.8 268.0 223.0C269.3 225.2 269.8 229.0 269.0 231.0C268.2 233.0 265.8 234.4 263.0 235.0C260.2 235.6 254.6 236.2 252.0 234.5C249.4 232.8 247.5 227.6 247.5 225.0Z" fill="#ff1515"/>
<path d="M106.0 274.2C105.6 276.2 104.7 278.4 103.7 279.9C102.6 281.5 101.0 282.9 99.5 283.7C97.9 284.4 96.1 284.7 94.5 284.4C93.0 284.1 91.3 283.2 90.1 282.0C88.9 280.8 87.9 278.9 87.5 277.1C87.0 275.2 86.9 272.9 87.2 271.0C87.6 269.0 88.5 266.8 89.5 265.3C90.6 263.7 92.2 262.3 93.7 261.5C95.3 260.8 97.1 260.5 98.7 260.8C100.2 261.1 101.9 262.0 103.1 263.2C104.3 264.4 105.3 266.3 105.7 268.1C106.2 270.0 106.3 272.3 106.0 274.2Z" fill="#ff6868"/>
<path d="M283.0 278.0C286.1 277.3 293.5 282.2 300.0 284.0C306.5 285.8 317.8 287.0 322.0 289.0C326.2 291.0 325.4 293.5 325.4 296.0C325.4 298.5 324.6 302.2 322.0 304.0C319.4 305.8 314.5 306.0 310.0 306.6C305.5 307.2 299.2 308.9 295.0 307.8C290.8 306.7 287.2 303.3 285.0 300.0C282.8 296.7 281.8 291.7 281.5 288.0C281.2 284.3 279.9 278.7 283.0 278.0Z" fill="#ff9966"/>
<path d="M88.0 317.0C94.7 312.7 102.9 313.2 110.0 314.0C117.1 314.8 124.2 317.6 130.5 321.6C136.8 325.6 143.4 331.5 148.0 338.0C152.6 344.5 155.9 353.4 158.0 360.5C160.1 367.6 160.0 374.8 160.6 380.5C161.2 386.2 161.9 390.1 161.6 395.0C161.3 399.9 159.6 403.5 159.0 410.0C158.4 416.5 161.0 429.0 157.8 434.0C154.6 439.0 149.6 445.7 140.0 440.0C130.4 434.3 110.8 410.0 100.0 400.0C89.2 390.0 80.0 390.0 75.0 380.0C70.0 370.0 67.8 350.5 70.0 340.0C72.2 329.5 81.3 321.3 88.0 317.0Z" fill="#00bb3f"/>
<path d="M86.0 331.0C90.7 328.2 95.5 329.0 100.0 328.5C104.5 328.0 107.9 326.2 113.0 327.8C118.1 329.4 125.9 333.4 130.5 338.0C135.1 342.6 138.0 349.1 140.5 355.4C143.0 361.6 144.9 368.9 145.5 375.5C146.1 382.1 144.9 390.9 144.0 395.0C143.1 399.1 141.5 396.8 140.0 400.0C138.5 403.2 138.3 412.3 135.0 414.0C131.7 415.7 126.7 413.2 120.0 410.0C113.3 406.8 102.5 400.0 95.0 395.0C87.5 390.0 78.8 388.3 75.0 380.0C71.2 371.7 70.2 353.2 72.0 345.0C73.8 336.8 81.3 333.8 86.0 331.0Z" fill="#00ffff"/>
<path d="M84.0 350.0C87.3 346.2 91.0 347.3 95.0 347.0C99.0 346.7 104.2 346.5 108.0 348.0C111.8 349.5 115.5 352.7 118.0 356.0C120.5 359.3 122.2 364.5 123.0 368.0C123.8 371.5 123.4 373.7 122.5 377.0C121.6 380.3 119.8 384.3 117.7 387.6C115.6 390.9 113.0 395.8 110.0 397.0C107.0 398.2 104.2 397.0 100.0 395.0C95.8 393.0 89.2 389.2 85.0 385.0C80.8 380.8 75.2 375.8 75.0 370.0C74.8 364.2 80.7 353.8 84.0 350.0Z" fill="#1e82f0"/>
<path d="M237.8 360.0C242.4 359.6 245.7 362.1 250.3 365.0C254.9 367.9 260.8 373.5 265.4 377.7C270.0 381.9 272.9 386.9 277.9 390.2C282.9 393.5 289.2 395.4 295.5 397.7C301.8 400.0 308.8 402.9 315.5 404.0C322.2 405.1 328.1 404.8 335.6 404.5C343.1 404.2 352.9 401.6 360.4 402.5C367.9 403.4 374.6 406.6 380.5 410.0C386.4 413.4 391.3 417.6 395.5 422.6C399.7 427.6 402.2 434.1 405.6 440.0C409.0 445.9 413.1 452.2 415.6 457.7C418.1 463.2 418.9 466.5 420.6 472.8C422.3 479.1 424.4 489.9 425.6 495.3C426.8 500.7 429.7 503.1 428.0 505.4C426.3 507.7 419.3 509.8 415.6 509.0C411.9 508.2 408.1 504.8 405.6 500.4C403.1 496.0 403.1 487.8 400.6 482.8C398.1 477.8 395.5 474.4 390.5 470.2C385.5 466.0 375.9 461.4 370.5 457.7C365.1 453.9 361.8 451.1 358.0 447.7C354.2 444.2 351.8 439.7 348.0 437.0C344.2 434.3 339.9 432.6 335.3 431.5C330.7 430.4 326.0 430.4 320.6 430.4C315.2 430.4 307.2 430.4 303.0 431.6C298.8 432.9 297.2 434.8 295.5 437.9C293.8 441.0 294.7 447.3 293.0 450.4C291.3 453.5 289.2 455.9 285.4 456.7C281.6 457.5 275.4 456.8 270.4 455.4C265.4 453.9 259.5 451.3 255.3 448.0C251.1 444.7 249.1 437.7 245.3 435.4C241.6 433.1 236.2 433.2 232.8 434.0C229.5 434.8 228.3 436.8 225.2 440.4C222.1 444.0 216.9 451.1 214.0 455.4C211.1 459.7 210.0 464.9 208.0 466.0C206.0 467.1 203.3 465.4 202.0 462.0C200.7 458.6 201.2 451.5 200.0 445.4C198.8 439.3 195.4 432.4 195.0 425.3C194.6 418.2 195.5 409.9 197.6 402.8C199.7 395.7 203.5 388.6 207.7 382.7C211.9 376.8 217.7 371.4 222.7 367.6C227.7 363.8 233.2 360.4 237.8 360.0Z" fill="#ff9966"/>
<path d="M104.0 206.0C105.3 206.5 107.8 209.3 108.0 212.0C108.2 214.7 106.7 219.2 105.0 222.0C103.3 224.8 100.5 227.3 98.0 229.0C95.5 230.7 92.1 232.5 90.0 232.0C87.9 231.5 86.0 228.7 85.5 226.0C85.0 223.3 85.4 217.9 87.0 216.0C88.6 214.1 92.8 215.7 95.0 214.5C97.2 213.3 98.5 210.4 100.0 209.0C101.5 207.6 102.7 205.5 104.0 206.0Z" fill="#00bb3f"/>
<path d="M327.5 268.0C327.5 269.8 327.0 271.8 326.1 273.4C325.2 275.0 323.7 276.5 322.1 277.4C320.5 278.3 318.5 278.8 316.7 278.8C314.9 278.8 312.9 278.3 311.3 277.4C309.7 276.5 308.2 275.0 307.3 273.4C306.4 271.8 305.9 269.8 305.9 268.0C305.9 266.2 306.4 264.2 307.3 262.6C308.2 261.0 309.7 259.5 311.3 258.6C312.9 257.7 314.9 257.2 316.7 257.2C318.5 257.2 320.5 257.7 322.1 258.6C323.7 259.5 325.2 261.0 326.1 262.6C327.0 264.2 327.5 266.2 327.5 268.0Z" fill="#00bb3f"/>
<path d="M323.0 268.0C323.0 269.1 322.7 270.2 322.2 271.1C321.6 272.1 320.8 272.9 319.8 273.5C318.9 274.0 317.8 274.3 316.7 274.3C315.6 274.3 314.5 274.0 313.6 273.5C312.6 272.9 311.8 272.1 311.2 271.1C310.7 270.2 310.4 269.1 310.4 268.0C310.4 266.9 310.7 265.8 311.2 264.9C311.8 263.9 312.6 263.1 313.6 262.5C314.5 262.0 315.6 261.7 316.7 261.7C317.8 261.7 318.9 262.0 319.8 262.5C320.8 263.1 321.6 263.9 322.2 264.9C322.7 265.8 323.0 266.9 323.0 268.0Z" fill="#00ffff"/>
<path d="M404.0 241.3C404.0 243.5 403.7 245.9 403.2 247.8C402.7 249.7 401.9 251.5 401.0 252.6C400.1 253.6 399.0 254.3 398.0 254.3C397.0 254.3 395.9 253.6 395.0 252.6C394.1 251.5 393.3 249.7 392.8 247.8C392.3 245.9 392.0 243.5 392.0 241.3C392.0 239.1 392.3 236.7 392.8 234.8C393.3 232.9 394.1 231.1 395.0 230.0C395.9 229.0 397.0 228.3 398.0 228.3C399.0 228.3 400.1 229.0 401.0 230.0C401.9 231.1 402.7 232.9 403.2 234.8C403.7 236.7 404.0 239.1 404.0 241.3Z" fill="#00bb3f"/>
<path d="M400.0 271.0C402.7 270.7 405.7 272.8 408.0 276.0C410.3 279.2 412.4 284.7 414.0 290.0C415.6 295.3 417.0 302.5 417.5 308.0C418.0 313.5 419.1 320.2 417.0 323.0C414.9 325.8 409.2 324.8 405.0 325.0C400.8 325.2 395.2 325.2 392.0 324.0C388.8 322.8 387.2 321.2 386.0 318.0C384.8 314.8 384.8 309.7 385.0 305.0C385.2 300.3 385.8 294.5 387.0 290.0C388.2 285.5 389.8 281.2 392.0 278.0C394.2 274.8 397.3 271.3 400.0 271.0Z" fill="#00bb3f"/>
<path d="M385.4 304.1C385.1 305.7 384.4 307.5 383.5 308.9C382.7 310.2 381.4 311.3 380.2 312.0C379.0 312.6 377.5 312.9 376.3 312.6C375.0 312.4 373.7 311.7 372.8 310.7C371.9 309.7 371.1 308.1 370.7 306.6C370.4 305.1 370.3 303.1 370.6 301.5C370.9 299.9 371.6 298.1 372.5 296.7C373.3 295.4 374.6 294.3 375.8 293.6C377.0 293.0 378.5 292.7 379.7 293.0C381.0 293.2 382.3 293.9 383.2 294.9C384.1 295.9 384.9 297.5 385.3 299.0C385.6 300.5 385.7 302.5 385.4 304.1Z" fill="#00bb3f"/>
<path d="M408.8 297.7C408.8 299.4 408.5 301.4 407.9 302.9C407.4 304.5 406.5 305.9 405.6 306.8C404.6 307.7 403.4 308.2 402.3 308.2C401.2 308.2 400.0 307.7 399.1 306.8C398.1 305.9 397.2 304.5 396.7 302.9C396.1 301.4 395.8 299.4 395.8 297.7C395.8 295.9 396.1 294.0 396.7 292.4C397.2 290.9 398.1 289.5 399.1 288.6C400.0 287.7 401.2 287.2 402.3 287.2C403.4 287.2 404.6 287.7 405.6 288.6C406.5 289.5 407.4 290.9 407.9 292.4C408.5 294.0 408.8 295.9 408.8 297.7Z" fill="#00ffff"/>
<path d="M288.0 340.0C287.8 335.3 289.2 328.8 292.0 325.0C294.8 321.2 300.0 318.5 305.0 317.0C310.0 315.5 317.0 315.5 322.0 316.0C327.0 316.5 331.2 320.2 335.0 320.0C338.8 319.8 342.2 316.0 345.0 315.0C347.8 314.0 350.0 313.2 352.0 314.0C354.0 314.8 356.0 316.5 357.0 320.0C358.0 323.5 358.3 330.5 358.0 335.0C357.7 339.5 357.2 344.5 355.0 347.0C352.8 349.5 348.3 348.5 345.0 350.0C341.7 351.5 339.2 354.2 335.0 356.0C330.8 357.8 325.0 360.3 320.0 361.0C315.0 361.7 309.5 361.3 305.0 360.0C300.5 358.7 295.8 356.3 293.0 353.0C290.2 349.7 288.2 344.7 288.0 340.0Z" fill="#00bb3f"/>
<path d="M322.6 337.0C322.6 338.3 322.2 339.8 321.5 341.0C320.9 342.2 319.8 343.3 318.6 343.9C317.4 344.6 315.9 345.0 314.6 345.0C313.3 345.0 311.8 344.6 310.6 343.9C309.4 343.3 308.3 342.2 307.7 341.0C307.0 339.8 306.6 338.3 306.6 337.0C306.6 335.7 307.0 334.2 307.7 333.0C308.3 331.8 309.4 330.7 310.6 330.1C311.8 329.4 313.3 329.0 314.6 329.0C315.9 329.0 317.4 329.4 318.6 330.1C319.8 330.7 320.9 331.8 321.5 333.0C322.2 334.2 322.6 335.7 322.6 337.0Z" fill="#00ffff"/>
<path d="M412.6 338.0C415.3 336.7 418.4 336.2 422.6 336.6C426.8 337.0 433.5 341.0 437.7 340.4C441.9 339.8 445.0 334.4 447.7 332.9C450.4 331.4 452.7 330.4 454.0 331.6C455.3 332.9 455.9 337.3 455.3 340.4C454.7 343.5 452.3 347.9 450.2 350.4C448.1 352.9 444.8 353.7 442.7 355.4C440.6 357.1 439.8 358.6 437.7 360.5C435.6 362.4 431.9 364.2 430.2 366.7C428.5 369.2 427.9 372.4 427.7 375.5C427.5 378.6 429.5 383.0 428.9 385.5C428.3 388.0 426.0 389.9 423.9 390.5C421.8 391.1 418.3 391.0 416.4 389.3C414.5 387.6 413.7 383.2 412.6 380.5C411.5 377.8 411.5 375.1 410.0 373.0C408.5 370.9 405.0 370.9 403.8 368.0C402.6 365.1 402.2 359.4 402.6 355.4C403.0 351.4 404.6 347.1 406.3 344.2C408.0 341.3 409.9 339.3 412.6 338.0Z" fill="#00bb3f"/>
<path d="M472.8 242.5C478.7 237.5 483.5 237.6 488.0 237.5C492.5 237.4 496.2 240.7 500.0 242.0C503.8 243.3 506.2 245.0 510.5 245.5C514.8 246.0 521.4 246.1 525.5 245.0C529.6 243.9 532.1 241.0 535.0 239.0C537.9 237.0 540.1 235.8 542.6 233.0C545.1 230.2 547.5 225.3 550.0 222.0C552.5 218.7 553.5 215.8 557.7 213.0C561.9 210.2 570.3 207.5 575.3 205.4C580.3 203.3 583.6 203.8 587.8 200.4C592.0 197.1 597.5 188.9 600.4 185.3C603.3 181.7 603.7 178.2 605.4 179.0C607.1 179.8 609.1 185.9 610.4 190.3C611.7 194.7 611.3 202.1 613.0 205.4C614.7 208.8 617.1 210.8 620.4 210.4C623.7 210.0 629.6 206.2 633.0 202.9C636.4 199.6 637.6 193.0 640.5 190.3C643.4 187.6 647.1 185.7 650.5 186.5C653.9 187.3 659.6 191.7 660.6 195.3C661.6 198.9 659.3 205.0 656.8 207.9C654.3 210.8 649.0 211.2 645.5 212.9C642.0 214.6 638.4 215.0 635.5 217.9C632.6 220.8 630.1 225.9 628.0 230.5C625.9 235.1 624.3 241.8 623.0 245.5C621.7 249.2 621.6 249.4 620.3 252.7C619.0 256.0 616.5 261.9 615.3 265.3C614.0 268.7 613.7 269.5 612.8 272.8C611.9 276.1 609.2 281.2 610.0 285.0C610.8 288.8 618.2 292.0 617.8 295.4C617.4 298.8 612.3 302.9 607.7 305.4C603.1 307.9 595.2 309.1 590.2 310.4C585.2 311.7 582.5 312.7 577.6 313.0C572.7 313.3 565.5 311.7 560.6 312.0C555.7 312.3 551.3 315.2 548.0 315.0C544.7 314.8 545.2 310.9 540.6 311.0C536.0 311.1 527.2 314.2 520.5 315.3C513.8 316.4 505.4 315.9 500.4 317.8C495.4 319.7 493.7 324.9 490.4 326.6C487.1 328.3 482.9 329.7 480.4 327.8C477.9 325.9 479.5 318.2 475.3 315.3C471.1 312.4 460.3 312.4 455.3 310.3C450.3 308.2 447.3 306.9 445.2 302.7C443.1 298.5 441.4 290.9 442.7 285.0C444.0 279.1 447.8 274.7 452.8 267.6C457.8 260.5 466.9 247.5 472.8 242.5Z" fill="#00bb3f"/>
<path d="M479.0 248.8C482.4 246.3 485.1 247.0 490.4 247.6C495.6 248.2 503.8 252.0 510.5 252.6C517.2 253.2 524.6 253.0 530.5 251.3C536.4 249.6 541.5 246.0 545.6 242.5C549.7 239.0 551.8 233.8 555.0 230.5C558.2 227.2 560.4 224.2 565.0 223.0C569.6 221.8 577.3 224.1 582.8 223.0C588.3 221.9 593.6 216.3 597.8 216.7C602.0 217.1 605.4 221.4 607.9 225.4C610.4 229.4 612.6 235.5 613.0 240.5C613.4 245.5 611.4 250.6 610.4 255.5C609.4 260.4 608.4 265.9 607.0 270.0C605.6 274.1 603.2 276.7 602.0 280.0C600.8 283.3 603.5 287.5 600.0 290.0C596.5 292.5 587.3 294.3 580.7 295.0C574.1 295.7 566.9 293.8 560.6 294.0C554.3 294.2 548.0 295.1 543.0 296.5C538.0 297.9 535.5 300.8 530.5 302.7C525.5 304.6 519.2 307.4 513.0 307.8C506.8 308.2 498.9 307.1 493.0 305.0C487.1 302.9 482.0 299.2 477.8 295.0C473.6 290.8 469.1 285.4 467.8 280.0C466.6 274.6 468.4 267.8 470.3 262.6C472.2 257.4 475.6 251.3 479.0 248.8Z" fill="#00ffff"/>
<path d="M483.0 260.0C484.3 256.4 485.1 256.7 488.0 256.3C490.9 255.9 495.0 256.6 500.4 257.6C505.8 258.7 513.8 263.2 520.5 262.6C527.2 262.0 534.8 257.2 540.6 253.8C546.5 250.5 551.4 245.4 555.6 242.5C559.8 239.6 562.9 235.9 565.6 236.3C568.3 236.7 571.6 240.6 572.0 245.0C572.4 249.4 570.7 257.8 568.0 262.6C565.3 267.4 561.0 271.1 555.6 274.0C550.2 276.9 540.9 277.5 535.5 280.0C530.1 282.5 527.2 286.5 523.0 289.0C518.8 291.5 515.9 295.2 510.5 295.0C505.1 294.8 495.4 290.6 490.4 287.7C485.4 284.8 481.6 282.3 480.4 277.7C479.2 273.1 481.7 263.6 483.0 260.0Z" fill="#1e82f0"/>
<path d="M654.8 198.6C654.8 199.4 654.5 200.4 654.1 201.1C653.7 201.8 653.0 202.5 652.3 202.9C651.6 203.3 650.6 203.6 649.8 203.6C649.0 203.6 648.0 203.3 647.3 202.9C646.6 202.5 645.9 201.8 645.5 201.1C645.1 200.4 644.8 199.4 644.8 198.6C644.8 197.8 645.1 196.8 645.5 196.1C645.9 195.4 646.6 194.7 647.3 194.3C648.0 193.9 649.0 193.6 649.8 193.6C650.6 193.6 651.6 193.9 652.3 194.3C653.0 194.7 653.7 195.4 654.1 196.1C654.5 196.8 654.8 197.8 654.8 198.6Z" fill="#00ffff"/>
<path d="M548.0 321.6C548.0 322.5 547.7 323.6 547.3 324.4C546.9 325.1 546.2 325.9 545.5 326.4C544.8 326.8 543.8 327.1 543.0 327.1C542.2 327.1 541.2 326.8 540.5 326.4C539.8 325.9 539.1 325.1 538.7 324.4C538.3 323.6 538.0 322.5 538.0 321.6C538.0 320.7 538.3 319.6 538.7 318.9C539.1 318.1 539.8 317.3 540.5 316.8C541.2 316.4 542.2 316.1 543.0 316.1C543.8 316.1 544.8 316.4 545.5 316.8C546.2 317.3 546.9 318.1 547.3 318.9C547.7 319.6 548.0 320.7 548.0 321.6Z" fill="#00bb3f"/>
<path d="M610.5 58.0C616.8 60.9 631.4 73.4 635.6 80.0C639.8 86.6 637.3 91.8 635.6 97.7C633.9 103.6 628.9 111.3 625.5 115.3C622.1 119.3 618.6 122.4 615.5 121.6C612.4 120.8 610.1 113.0 606.7 110.3C603.4 107.6 599.4 104.5 595.4 105.3C591.4 106.1 587.2 113.0 583.0 115.3C578.8 117.6 574.2 120.2 570.4 119.0C566.6 117.8 558.3 111.0 560.0 107.8C561.7 104.6 575.4 103.3 580.4 100.0C585.4 96.7 587.9 92.3 590.0 87.7C592.1 83.1 591.7 76.8 593.0 72.6C594.3 68.4 595.1 65.0 598.0 62.6C600.9 60.2 604.2 55.1 610.5 58.0Z" fill="#00bb3f"/>
<path d="M700.3 83.0C702.2 84.7 706.6 90.9 706.6 95.0C706.6 99.1 702.6 103.9 700.3 107.7C698.0 111.5 694.5 113.9 692.8 117.7C691.1 121.5 691.5 127.6 690.2 130.3C688.9 133.0 686.7 134.4 685.2 134.0C683.8 133.6 681.5 130.9 681.5 127.8C681.5 124.7 683.5 119.8 685.2 115.2C686.9 110.6 689.8 105.0 691.5 100.0C693.2 95.0 693.8 87.8 695.3 85.0C696.8 82.2 698.4 81.3 700.3 83.0Z" fill="#00bb3f"/>
<path d="M690.5 225.0C693.2 222.9 701.1 218.9 702.0 220.0C702.9 221.1 698.7 227.1 696.0 231.4C693.3 235.7 691.1 241.3 686.0 246.0C680.9 250.7 671.7 255.5 665.4 259.7C659.1 263.9 651.3 270.9 648.0 271.0C644.7 271.1 643.7 263.9 645.4 260.0C647.1 256.1 653.4 251.0 658.0 247.7C662.6 244.4 668.4 242.5 673.0 240.0C677.6 237.5 682.6 235.1 685.5 232.6C688.4 230.1 687.8 227.1 690.5 225.0Z" fill="#00bb3f"/>
<path d="M637.8 295.4C640.5 295.0 647.7 295.4 649.0 297.9C650.3 300.4 648.1 306.6 645.4 310.4C642.7 314.2 637.4 317.8 632.8 320.5C628.2 323.2 622.0 326.3 617.8 326.7C613.6 327.1 608.8 325.1 607.7 323.0C606.7 320.9 608.6 316.7 611.5 314.2C614.4 311.7 621.8 310.2 625.3 307.9C628.8 305.6 630.7 302.5 632.8 300.4C634.9 298.3 635.1 295.8 637.8 295.4Z" fill="#00bb3f"/>
<path d="M444.0 395.6C447.1 394.7 450.8 397.1 451.4 400.0C452.0 402.9 449.2 408.5 447.7 412.7C446.2 416.9 444.3 421.0 442.6 425.2C440.9 429.4 440.1 434.0 437.6 437.8C435.1 441.6 430.7 447.0 427.6 447.8C424.5 448.6 420.7 445.3 418.8 442.8C416.9 440.3 415.7 437.0 416.3 432.8C416.9 428.6 419.9 422.3 422.6 417.7C425.3 413.1 429.0 408.9 432.6 405.2C436.2 401.5 440.9 396.5 444.0 395.6Z" fill="#00bb3f"/>
<path d="M528.0 412.7C530.5 411.7 538.0 415.6 540.5 419.0C543.0 422.4 543.8 426.8 543.0 432.8C542.2 438.9 538.8 450.9 535.5 455.3C532.2 459.7 527.2 459.4 523.0 459.0C518.8 458.6 511.2 455.9 510.4 452.8C509.6 449.7 515.5 444.9 518.0 440.3C520.5 435.7 523.7 429.8 525.4 425.2C527.1 420.6 525.5 413.7 528.0 412.7Z" fill="#00bb3f"/>
<path d="M531.0 439.8C531.0 440.2 530.9 440.6 530.7 440.9C530.5 441.3 530.2 441.6 529.9 441.8C529.5 442.0 529.1 442.1 528.7 442.1C528.3 442.1 527.9 442.0 527.6 441.8C527.2 441.6 526.9 441.3 526.7 440.9C526.5 440.6 526.4 440.2 526.4 439.8C526.4 439.4 526.5 439.0 526.7 438.7C526.9 438.3 527.2 438.0 527.6 437.8C527.9 437.6 528.3 437.5 528.7 437.5C529.1 437.5 529.5 437.6 529.9 437.8C530.2 438.0 530.5 438.3 530.7 438.7C530.9 439.0 531.0 439.4 531.0 439.8Z" fill="#00ffff"/>
<path d="M527.5 402.0C527.5 403.2 527.3 404.5 526.9 405.5C526.5 406.5 525.9 407.5 525.2 408.1C524.6 408.6 523.8 409.0 523.0 409.0C522.2 409.0 521.4 408.6 520.8 408.1C520.1 407.5 519.5 406.5 519.1 405.5C518.7 404.5 518.5 403.2 518.5 402.0C518.5 400.8 518.7 399.5 519.1 398.5C519.5 397.5 520.1 396.5 520.8 395.9C521.4 395.4 522.2 395.0 523.0 395.0C523.8 395.0 524.6 395.4 525.2 395.9C525.9 396.5 526.5 397.5 526.9 398.5C527.3 399.5 527.5 400.8 527.5 402.0Z" fill="#00bb3f"/>
<path d="M462.7 484.5C462.7 486.0 462.1 487.7 461.0 489.0C460.0 490.3 458.3 491.5 456.4 492.3C454.6 493.0 452.3 493.5 450.2 493.5C448.1 493.5 445.8 493.0 443.9 492.3C442.1 491.5 440.4 490.3 439.4 489.0C438.3 487.7 437.7 486.0 437.7 484.5C437.7 483.0 438.3 481.3 439.4 480.0C440.4 478.7 442.1 477.5 443.9 476.7C445.8 476.0 448.1 475.5 450.2 475.5C452.3 475.5 454.6 476.0 456.4 476.7C458.3 477.5 460.0 478.7 461.0 480.0C462.1 481.3 462.7 483.0 462.7 484.5Z" fill="#00bb3f"/>
<path d="M504.9 499.4C505.5 500.0 505.7 501.4 505.3 503.1C504.8 504.7 503.7 507.1 502.3 509.3C500.9 511.5 498.8 514.2 496.8 516.4C494.7 518.6 492.2 520.9 490.1 522.6C488.0 524.2 485.8 525.5 484.2 526.1C482.6 526.6 481.2 526.6 480.5 526.0C479.9 525.4 479.7 524.0 480.1 522.3C480.6 520.7 481.7 518.3 483.1 516.1C484.5 513.9 486.6 511.2 488.6 509.0C490.7 506.8 493.2 504.5 495.3 502.8C497.4 501.2 499.6 499.9 501.2 499.3C502.8 498.8 504.2 498.8 504.9 499.4Z" fill="#00bb3f"/>
<path d="M573.0 523.3C579.2 523.7 590.3 528.9 595.5 532.8C600.7 536.7 604.3 543.7 604.3 546.6C604.3 549.5 599.5 548.9 595.5 550.4C591.5 551.9 584.7 553.7 580.5 555.4C576.3 557.1 574.2 559.0 570.5 560.4C566.8 561.8 562.0 563.8 558.0 564.0C554.0 564.2 548.8 563.5 546.6 561.6C544.4 559.8 544.3 556.0 544.9 552.9C545.5 549.8 548.2 546.6 550.4 542.8C552.6 539.0 554.2 533.5 558.0 530.3C561.8 527.0 566.8 522.9 573.0 523.3Z" fill="#00bb3f"/>
<path d="M378.5 482.8C378.5 484.5 378.1 486.4 377.4 487.8C376.8 489.2 375.7 490.6 374.5 491.5C373.3 492.3 371.8 492.8 370.5 492.8C369.2 492.8 367.7 492.3 366.5 491.5C365.3 490.6 364.2 489.2 363.6 487.8C362.9 486.4 362.5 484.5 362.5 482.8C362.5 481.1 362.9 479.2 363.6 477.8C364.2 476.4 365.3 475.0 366.5 474.1C367.7 473.3 369.2 472.8 370.5 472.8C371.8 472.8 373.3 473.3 374.5 474.1C375.7 475.0 376.8 476.4 377.4 477.8C378.1 479.2 378.5 481.1 378.5 482.8Z" fill="#00bb3f"/>
<path d="M372.5 514.7C372.5 516.1 372.1 517.7 371.4 519.0C370.7 520.2 369.5 521.4 368.2 522.1C367.0 522.8 365.4 523.2 364.0 523.2C362.6 523.2 361.0 522.8 359.8 522.1C358.5 521.4 357.3 520.2 356.6 519.0C355.9 517.7 355.5 516.1 355.5 514.7C355.5 513.3 355.9 511.7 356.6 510.5C357.3 509.2 358.5 508.0 359.8 507.3C361.0 506.6 362.6 506.2 364.0 506.2C365.4 506.2 367.0 506.6 368.2 507.3C369.5 508.0 370.7 509.2 371.4 510.5C372.1 511.7 372.5 513.3 372.5 514.7Z" fill="#00bb3f"/>
<path d="M398.3 517.4C398.3 518.6 398.1 519.9 397.7 520.9C397.3 521.9 396.7 522.9 396.1 523.5C395.4 524.0 394.6 524.4 393.8 524.4C393.1 524.4 392.2 524.0 391.6 523.5C390.9 522.9 390.3 521.9 389.9 520.9C389.5 519.9 389.3 518.6 389.3 517.4C389.3 516.2 389.5 514.9 389.9 513.9C390.3 512.9 390.9 511.9 391.6 511.3C392.2 510.8 393.1 510.4 393.8 510.4C394.6 510.4 395.4 510.8 396.1 511.3C396.7 511.9 397.3 512.9 397.7 513.9C398.1 514.9 398.3 516.2 398.3 517.4Z" fill="#00bb3f"/>
<path d="M426.6 536.7C426.6 538.5 425.8 540.6 424.5 542.2C423.1 543.8 420.9 545.3 418.6 546.2C416.3 547.1 413.3 547.7 410.6 547.7C407.9 547.7 404.9 547.1 402.6 546.2C400.3 545.3 398.1 543.8 396.7 542.2C395.4 540.6 394.6 538.5 394.6 536.7C394.6 534.9 395.4 532.8 396.7 531.2C398.1 529.6 400.3 528.1 402.6 527.2C404.9 526.3 407.9 525.7 410.6 525.7C413.3 525.7 416.3 526.3 418.6 527.2C420.9 528.1 423.1 529.6 424.5 531.2C425.8 532.8 426.6 534.9 426.6 536.7Z" fill="#00bb3f"/>
<path d="M485.0 571.7C485.0 572.5 484.7 573.5 484.2 574.2C483.7 574.9 482.9 575.6 482.0 576.0C481.1 576.4 480.0 576.7 479.0 576.7C478.0 576.7 476.9 576.4 476.0 576.0C475.1 575.6 474.3 574.9 473.8 574.2C473.3 573.5 473.0 572.5 473.0 571.7C473.0 570.9 473.3 569.9 473.8 569.2C474.3 568.5 475.1 567.8 476.0 567.4C476.9 567.0 478.0 566.7 479.0 566.7C480.0 566.7 481.1 567.0 482.0 567.4C482.9 567.8 483.7 568.5 484.2 569.2C484.7 569.9 485.0 570.9 485.0 571.7Z" fill="#00bb3f"/>
<path d="M526.3 593.8C526.3 594.5 526.1 595.2 525.8 595.8C525.5 596.4 525.1 596.9 524.5 597.3C524.0 597.6 523.4 597.8 522.8 597.8C522.2 597.8 521.6 597.6 521.0 597.3C520.5 596.9 520.1 596.4 519.8 595.8C519.5 595.2 519.3 594.5 519.3 593.8C519.3 593.1 519.5 592.4 519.8 591.8C520.1 591.2 520.5 590.7 521.0 590.3C521.6 590.0 522.2 589.8 522.8 589.8C523.4 589.8 524.0 590.0 524.5 590.3C525.1 590.7 525.5 591.2 525.8 591.8C526.1 592.4 526.3 593.1 526.3 593.8Z" fill="#00bb3f"/>
<path d="M513.0 603.0C515.3 600.5 524.5 599.5 527.0 601.0C529.5 602.5 528.8 609.3 528.0 612.0C527.2 614.7 524.5 616.3 522.0 617.0C519.5 617.7 514.5 618.3 513.0 616.0C511.5 613.7 510.7 605.5 513.0 603.0Z" fill="#00bb3f"/>
<path d="M664.0 405.0C665.4 402.9 668.3 403.3 669.0 405.0C669.7 406.7 666.1 412.5 668.0 415.0C669.9 417.5 677.5 418.1 680.4 420.0C683.3 421.9 687.1 425.9 685.4 426.6C683.7 427.3 674.6 425.5 670.4 424.0C666.2 422.5 661.5 421.0 660.4 417.8C659.3 414.6 662.6 407.1 664.0 405.0Z" fill="#00bb3f"/>
<path d="M764.3 85.0C767.5 87.9 769.9 101.7 770.0 110.0C770.1 118.3 767.2 129.4 765.0 135.0C762.8 140.6 760.4 143.1 756.7 143.6C753.0 144.1 745.5 142.5 743.0 137.8C740.5 133.1 740.9 121.5 741.7 115.2C742.5 108.9 746.5 103.8 748.0 100.0C749.5 96.2 747.8 95.1 750.5 92.6C753.2 90.1 761.0 82.1 764.3 85.0Z" fill="#ff9966"/>
<path d="M673.6 112.0C673.6 113.3 673.2 114.8 672.5 116.0C671.9 117.2 670.8 118.3 669.6 118.9C668.4 119.6 666.9 120.0 665.6 120.0C664.3 120.0 662.8 119.6 661.6 118.9C660.4 118.3 659.3 117.2 658.7 116.0C658.0 114.8 657.6 113.3 657.6 112.0C657.6 110.7 658.0 109.2 658.7 108.0C659.3 106.8 660.4 105.7 661.6 105.1C662.8 104.4 664.3 104.0 665.6 104.0C666.9 104.0 668.4 104.4 669.6 105.1C670.8 105.7 671.9 106.8 672.5 108.0C673.2 109.2 673.6 110.7 673.6 112.0Z" fill="#ff9966"/>
<path d="M474.0 363.0C474.6 359.7 477.2 355.7 480.4 353.0C483.6 350.3 488.0 348.2 493.0 346.7C498.0 345.2 505.5 344.0 510.5 344.2C515.5 344.4 520.5 345.7 523.0 348.0C525.5 350.3 525.9 355.1 525.5 358.0C525.1 360.9 522.6 363.0 520.5 365.5C518.4 368.0 516.4 370.5 513.0 373.0C509.6 375.5 505.0 379.4 500.4 380.5C495.8 381.6 489.4 380.6 485.4 379.3C481.4 378.1 478.5 375.7 476.6 373.0C474.7 370.3 473.4 366.3 474.0 363.0Z" fill="#ff9966"/>
<path d="M509.9 353.2C510.3 353.7 510.5 354.6 510.3 355.5C510.1 356.4 509.5 357.7 508.7 358.8C507.9 359.9 506.7 361.1 505.6 362.1C504.4 363.0 503.0 364.0 501.8 364.5C500.6 365.1 499.3 365.5 498.3 365.5C497.4 365.6 496.5 365.3 496.1 364.8C495.7 364.3 495.5 363.4 495.7 362.5C495.9 361.6 496.5 360.3 497.3 359.2C498.1 358.1 499.3 356.9 500.4 355.9C501.6 355.0 503.0 354.0 504.2 353.5C505.4 352.9 506.7 352.5 507.7 352.5C508.6 352.4 509.5 352.7 509.9 353.2Z" fill="#ff6868"/>
<path d="M567.0 322.8C569.5 322.8 575.9 324.5 578.2 326.6C580.5 328.7 581.3 332.3 580.7 335.4C580.1 338.5 576.5 342.3 574.4 345.4C572.3 348.5 570.7 352.5 568.2 354.2C565.7 355.9 561.5 356.4 559.4 355.4C557.3 354.4 555.6 351.3 555.6 348.0C555.6 344.7 558.1 339.0 559.4 335.4C560.7 331.8 561.9 328.7 563.2 326.6C564.5 324.5 564.5 322.8 567.0 322.8Z" fill="#ff9966"/>
<path d="M567.7 345.2C567.3 346.1 566.8 347.1 566.2 347.9C565.7 348.6 564.9 349.2 564.3 349.5C563.6 349.8 562.9 349.8 562.3 349.6C561.8 349.4 561.3 348.9 561.0 348.3C560.7 347.6 560.5 346.7 560.5 345.8C560.5 344.9 560.8 343.7 561.1 342.8C561.5 341.9 562.0 340.9 562.6 340.1C563.1 339.4 563.9 338.8 564.5 338.5C565.2 338.2 565.9 338.2 566.5 338.4C567.0 338.6 567.5 339.1 567.8 339.7C568.1 340.4 568.3 341.3 568.3 342.2C568.3 343.1 568.0 344.3 567.7 345.2Z" fill="#ff6868"/>
<path d="M597.6 345.0C600.9 342.8 605.0 339.6 610.0 338.8C615.0 338.0 623.5 337.7 627.7 340.0C631.9 342.3 634.9 348.8 635.3 352.6C635.7 356.4 632.7 359.7 630.2 362.6C627.7 365.5 624.4 368.1 620.2 370.0C616.0 371.9 609.0 371.5 605.2 374.0C601.4 376.5 598.5 381.7 597.6 385.2C596.7 388.7 600.8 392.3 600.0 395.2C599.2 398.1 595.5 401.1 592.6 402.8C589.7 404.5 586.4 404.5 582.6 405.3C578.8 406.1 574.5 406.8 570.0 407.8C565.5 408.8 559.3 411.7 555.5 411.4C551.7 411.1 549.1 408.3 547.0 406.0C544.9 403.7 542.8 400.4 543.0 397.6C543.2 394.8 545.9 391.4 548.0 389.0C550.1 386.6 552.6 385.8 555.5 383.0C558.4 380.2 561.4 375.8 565.6 372.0C569.8 368.2 576.6 363.8 580.7 360.5C584.8 357.2 587.2 354.6 590.0 352.0C592.8 349.4 594.3 347.2 597.6 345.0Z" fill="#ff9966"/>
<path d="M613.3 426.5C619.9 426.5 624.0 432.6 630.2 435.4C636.4 438.1 645.3 439.7 650.3 443.0C655.3 446.3 658.9 450.8 660.4 455.4C661.9 460.0 659.8 466.9 659.0 470.5C658.2 474.1 657.2 472.9 655.8 477.0C654.4 481.1 653.6 489.9 650.7 495.0C647.8 500.1 643.2 504.8 638.2 507.7C633.2 510.6 626.9 511.7 620.6 512.7C614.3 513.8 607.3 514.4 600.6 514.0C593.9 513.6 587.2 511.5 580.5 510.2C573.8 508.9 566.0 508.5 560.4 506.4C554.8 504.3 549.4 500.8 546.6 497.7C543.8 494.6 543.6 490.9 543.4 487.6C543.2 484.3 544.3 481.3 545.5 478.0C546.7 474.7 548.7 470.9 550.4 468.0C552.1 465.1 552.1 463.8 555.5 460.4C558.9 457.0 564.7 452.0 570.6 447.8C576.5 443.6 583.6 438.9 590.7 435.3C597.8 431.8 606.7 426.5 613.3 426.5Z" fill="#ff9966"/>
<path d="M621.5 454.7C621.5 454.9 621.4 455.2 621.3 455.3C621.2 455.5 621.0 455.7 620.9 455.8C620.7 455.9 620.4 456.0 620.2 456.0C620.0 456.0 619.7 455.9 619.6 455.8C619.4 455.7 619.2 455.5 619.1 455.3C619.0 455.2 618.9 454.9 618.9 454.7C618.9 454.5 619.0 454.2 619.1 454.1C619.2 453.9 619.4 453.7 619.6 453.6C619.7 453.5 620.0 453.4 620.2 453.4C620.4 453.4 620.7 453.5 620.9 453.6C621.0 453.7 621.2 453.9 621.3 454.1C621.4 454.2 621.5 454.5 621.5 454.7Z" fill="#ff6868"/>
<path d="M469.0 391.0C471.1 393.3 473.8 402.3 474.5 408.0C475.2 413.7 474.7 419.7 473.5 425.0C472.3 430.3 469.0 434.3 467.5 440.0C466.0 445.7 465.9 456.8 464.5 459.0C463.1 461.2 461.1 456.5 459.0 453.0C456.9 449.5 453.6 443.1 452.0 438.0C450.4 432.9 449.0 428.2 449.5 422.7C450.0 417.2 452.9 409.8 455.0 405.0C457.1 400.2 459.7 396.3 462.0 394.0C464.3 391.7 466.9 388.7 469.0 391.0Z" fill="#ff9966"/>
<path d="M487.8 410.5C490.5 410.5 493.0 414.1 493.0 417.0C493.0 419.9 490.5 424.6 488.0 428.0C485.5 431.4 481.0 435.7 478.0 437.5C475.0 439.3 471.1 440.6 470.0 439.0C468.9 437.4 470.3 431.7 471.5 428.0C472.7 424.3 474.3 419.9 477.0 417.0C479.7 414.1 485.1 410.5 487.8 410.5Z" fill="#ff9966"/>
<path d="M522.8 534.0C522.8 535.7 522.3 537.6 521.4 539.0C520.5 540.4 519.1 541.8 517.5 542.7C516.0 543.5 514.0 544.0 512.3 544.0C510.5 544.0 508.6 543.5 507.0 542.7C505.5 541.8 504.1 540.4 503.2 539.0C502.3 537.6 501.8 535.7 501.8 534.0C501.8 532.3 502.3 530.4 503.2 529.0C504.1 527.6 505.5 526.2 507.0 525.3C508.6 524.5 510.5 524.0 512.3 524.0C514.0 524.0 516.0 524.5 517.5 525.3C519.1 526.2 520.5 527.6 521.4 529.0C522.3 530.4 522.8 532.3 522.8 534.0Z" fill="#ff9966"/>
<path d="M379.0 271.4C379.0 272.6 378.7 273.9 378.2 274.9C377.7 275.9 376.9 276.9 376.0 277.5C375.1 278.0 374.0 278.4 373.0 278.4C372.0 278.4 370.9 278.0 370.0 277.5C369.1 276.9 368.3 275.9 367.8 274.9C367.3 273.9 367.0 272.6 367.0 271.4C367.0 270.2 367.3 268.9 367.8 267.9C368.3 266.9 369.1 265.9 370.0 265.3C370.9 264.8 372.0 264.4 373.0 264.4C374.0 264.4 375.1 264.8 376.0 265.3C376.9 265.9 377.7 266.9 378.2 267.9C378.7 268.9 379.0 270.2 379.0 271.4Z" fill="#ff9966"/>
<path d="M335.0 221.7C333.1 224.2 327.5 233.1 323.3 236.7C319.1 240.3 314.4 240.5 310.0 243.3C305.6 246.1 300.3 249.4 296.7 253.3C293.1 257.2 290.5 262.5 288.3 266.7C286.1 270.9 284.1 276.4 283.3 278.3" fill="none" stroke="#8a8a70" stroke-width="0.7" stroke-dasharray="4 1.5 1 1.5"/>
<path d="M283.3 278.3C280.5 278.9 271.4 280.6 266.7 281.7C262.0 282.8 256.7 282.5 255.0 285.0C253.3 287.5 255.6 293.1 256.7 296.7C257.8 300.3 261.4 303.4 261.7 306.7C262.0 310.0 260.0 313.9 258.3 316.7C256.6 319.5 255.3 323.3 251.7 323.3C248.1 323.3 242.0 318.4 236.7 316.7C231.4 315.0 226.1 313.6 220.0 313.3C213.9 313.0 206.1 314.2 200.0 315.0C193.9 315.8 188.3 318.0 183.3 318.3C178.3 318.6 175.6 317.5 170.0 316.7C164.4 315.9 155.3 313.8 150.0 313.3C144.7 312.9 141.7 314.3 138.0 314.0C134.3 313.7 131.8 312.1 128.0 311.5C124.2 310.9 120.9 310.1 115.4 310.3C109.9 310.6 98.4 312.6 95.0 313.0" fill="none" stroke="#8a8a70" stroke-width="0.7" stroke-dasharray="4 1.5 1 1.5"/>
<path d="M236.7 316.7C237.2 318.4 239.7 322.3 240.0 326.7C240.3 331.1 238.9 338.3 238.3 343.3C237.8 348.3 235.9 352.8 236.7 356.7C237.5 360.6 239.4 363.9 243.3 366.7C247.2 369.5 253.9 370.2 260.0 373.3C266.1 376.4 273.9 382.2 280.0 385.0C286.1 387.8 291.7 387.2 296.7 390.0C301.7 392.8 305.0 399.5 310.0 401.7C315.0 403.9 322.5 403.9 326.7 403.3C330.9 402.7 333.6 398.9 335.0 398.0" fill="none" stroke="#8a8a70" stroke-width="0.7" stroke-dasharray="4 1.5 1 1.5"/>
<path d="M283.3 278.3C285.5 278.9 291.7 280.0 296.7 281.7C301.7 283.4 308.3 285.8 313.3 288.3C318.3 290.8 323.1 296.1 326.7 296.7C330.3 297.3 333.1 294.5 335.0 291.7C336.9 288.9 335.8 281.4 338.3 280.0C340.8 278.6 345.8 281.9 350.0 283.3C354.2 284.7 358.3 286.4 363.3 288.3C368.3 290.2 376.1 295.8 380.0 295.0C383.9 294.2 386.1 287.5 386.7 283.3C387.2 279.1 384.4 274.2 383.3 270.0C382.2 265.8 383.9 260.5 380.0 258.3C376.1 256.1 365.0 260.3 360.0 256.7C355.0 253.1 351.9 242.3 350.0 236.7C348.1 231.1 348.6 225.5 348.3 223.3" fill="none" stroke="#8a8a70" stroke-width="0.7" stroke-dasharray="4 1.5 1 1.5"/>
<path d="M380.0 295.0C382.0 296.7 387.8 302.2 392.0 305.0C396.2 307.8 400.3 309.8 405.0 312.0C409.7 314.2 415.5 318.0 420.0 318.0C424.5 318.0 428.7 315.0 432.0 312.0C435.3 309.0 440.3 303.7 440.0 300.0C439.7 296.3 433.7 293.0 430.0 290.0C426.3 287.0 420.0 283.3 418.0 282.0" fill="none" stroke="#8a8a70" stroke-width="0.7" stroke-dasharray="4 1.5 1 1.5"/>
<path d="M336.7 366.7C338.9 367.8 346.7 370.0 350.0 373.3C353.3 376.6 353.4 383.8 356.7 386.7C360.0 389.6 365.6 389.9 370.0 391.0C374.4 392.1 379.4 395.1 383.3 393.3C387.2 391.5 389.7 383.1 393.3 380.0C396.9 376.9 401.4 374.7 405.0 375.0C408.6 375.3 411.7 379.2 415.0 382.0C418.3 384.8 420.8 389.8 425.0 392.0C429.2 394.2 436.2 395.2 440.0 395.0C443.8 394.8 445.1 393.0 447.7 390.6C450.2 388.2 453.2 384.7 455.3 380.5C457.4 376.3 458.6 370.1 460.3 365.5C462.0 360.9 465.3 357.6 465.3 353.0C465.3 348.4 460.7 342.9 460.3 337.9C459.9 332.9 461.2 327.1 462.8 322.8C464.4 318.5 468.8 313.8 470.0 312.0" fill="none" stroke="#8a8a70" stroke-width="0.7" stroke-dasharray="4 1.5 1 1.5"/>
<path d="M335.0 398.0C335.8 400.8 337.8 408.8 340.0 415.0C342.2 421.2 346.0 428.3 348.0 435.0C350.0 441.7 351.8 449.2 352.0 455.0C352.2 460.8 349.5 467.5 349.0 470.0" fill="none" stroke="#8a8a70" stroke-width="0.7" stroke-dasharray="4 1.5 1 1.5"/>
<path d="M553.0 280.0C552.6 282.5 550.6 289.5 550.6 295.0C550.6 300.5 553.0 307.8 553.0 312.8C553.0 317.9 550.2 321.5 550.6 325.3C551.0 329.1 555.2 332.4 555.6 335.4C556.0 338.3 554.8 340.9 553.0 343.0C551.2 345.1 546.3 347.2 545.0 348.0" fill="none" stroke="#8a8a70" stroke-width="0.7" stroke-dasharray="4 1.5 1 1.5"/>
<path d="M417.6 282.7C419.3 284.4 424.0 289.8 427.7 292.7C431.4 295.6 436.3 296.8 440.0 300.0C443.7 303.2 446.3 309.0 450.0 312.0C453.7 315.0 457.8 316.3 462.0 318.0C466.2 319.7 470.3 320.0 475.0 322.0C479.7 324.0 485.0 330.0 490.0 330.0C495.0 330.0 501.3 325.3 505.0 322.0C508.7 318.7 510.8 312.0 512.0 310.0" fill="none" stroke="#8a8a70" stroke-width="0.7" stroke-dasharray="4 1.5 1 1.5"/>
<path d="M450.0 385.0C452.1 386.3 458.5 390.1 462.7 392.6C466.9 395.1 471.1 397.9 475.3 400.0C479.5 402.1 483.6 403.3 487.8 405.0C492.0 406.7 497.9 411.7 500.4 410.0C502.9 408.3 502.6 399.6 503.0 395.0C503.4 390.4 501.8 383.0 503.0 382.6C504.2 382.2 506.7 391.8 510.4 392.6C514.1 393.4 520.4 387.6 525.4 387.6C530.4 387.6 536.1 392.5 540.5 392.6C544.9 392.7 548.8 390.1 552.0 388.0C555.2 385.9 558.7 381.3 560.0 380.0" fill="none" stroke="#8a8a70" stroke-width="0.7" stroke-dasharray="4 1.5 1 1.5"/>
<path d="M502.9 442.8C505.8 442.6 514.1 441.9 520.4 441.5C526.7 441.1 534.6 440.1 540.5 440.3C546.4 440.5 551.3 441.6 555.5 442.8C559.7 444.1 563.1 447.0 565.6 447.8C568.1 448.6 569.4 444.9 570.6 447.8C571.8 450.7 573.0 460.0 573.0 465.4C573.0 470.8 570.2 475.4 570.6 480.4C571.0 485.4 573.9 490.5 575.6 495.5C577.3 500.5 579.8 508.0 580.6 510.5" fill="none" stroke="#8a8a70" stroke-width="0.7" stroke-dasharray="4 1.5 1 1.5"/>
<path d="M502.9 442.8C502.5 445.7 500.0 455.0 500.4 460.4C500.8 465.8 505.4 471.2 505.4 475.4C505.4 479.6 502.1 481.7 500.4 485.5C498.7 489.3 497.6 494.8 495.0 498.0C492.4 501.2 489.2 502.7 485.0 505.0C480.8 507.3 475.0 510.3 470.0 512.0C465.0 513.7 460.0 515.0 455.0 515.0C450.0 515.0 444.5 513.7 440.0 512.0C435.5 510.3 430.0 506.2 428.0 505.0" fill="none" stroke="#8a8a70" stroke-width="0.7" stroke-dasharray="4 1.5 1 1.5"/>
<path d="M430.0 470.4C433.3 469.6 443.3 465.4 450.0 465.4C456.7 465.4 464.3 470.4 470.2 470.4C476.1 470.4 480.8 465.5 485.3 465.4C489.8 465.3 495.1 469.2 497.0 470.0" fill="none" stroke="#8a8a70" stroke-width="0.7" stroke-dasharray="4 1.5 1 1.5"/>
<path d="M428.0 505.0C427.5 502.5 424.7 495.8 425.0 490.0C425.3 484.2 430.0 476.2 430.0 470.4C430.0 464.6 423.3 458.4 425.0 455.0C426.7 451.6 435.0 449.5 440.0 450.0C445.0 450.5 450.0 458.0 455.0 458.0C460.0 458.0 465.8 453.0 470.0 450.0C474.2 447.0 476.7 443.0 480.0 440.0C483.3 437.0 486.7 433.7 490.0 432.0C493.3 430.3 497.9 428.2 500.0 430.0C502.1 431.8 502.4 440.7 502.9 442.8" fill="none" stroke="#8a8a70" stroke-width="0.7" stroke-dasharray="4 1.5 1 1.5"/>
<path d="M570.6 447.8C573.0 446.5 580.1 442.6 585.0 440.0C589.9 437.4 595.0 434.0 600.0 432.0C605.0 430.0 610.8 430.0 615.0 428.0C619.2 426.0 620.8 422.2 625.0 420.0C629.2 417.8 635.8 415.0 640.0 415.0C644.2 415.0 648.3 419.2 650.0 420.0" fill="none" stroke="#8a8a70" stroke-width="0.7" stroke-dasharray="4 1.5 1 1.5"/>
<path d="M608.2 467.9C608.6 470.8 611.1 480.0 610.7 485.4C610.3 490.8 607.5 496.1 605.7 500.5C603.9 504.9 602.6 508.8 600.0 512.0C597.4 515.2 593.2 520.2 590.0 520.0C586.8 519.8 582.2 512.1 580.6 510.5" fill="none" stroke="#8a8a70" stroke-width="0.7" stroke-dasharray="4 1.5 1 1.5"/>
<path d="M608.2 467.9C609.8 465.8 614.4 458.8 618.0 455.0C621.6 451.2 625.5 447.5 630.0 445.0C634.5 442.5 640.8 442.5 645.0 440.0C649.2 437.5 654.2 433.3 655.0 430.0C655.8 426.7 650.8 421.7 650.0 420.0" fill="none" stroke="#8a8a70" stroke-width="0.7" stroke-dasharray="4 1.5 1 1.5"/>
<path d="M580.6 510.5C578.0 511.2 570.1 513.8 565.0 515.0C559.9 516.2 554.2 516.3 550.0 518.0C545.8 519.7 543.7 524.3 540.0 525.0C536.3 525.7 531.3 521.2 528.0 522.0C524.7 522.8 522.7 527.0 520.0 530.0C517.3 533.0 514.5 536.3 512.0 540.0C509.5 543.7 507.0 547.8 505.0 552.0C503.0 556.2 501.7 561.2 500.0 565.0C498.3 568.8 495.8 573.3 495.0 575.0" fill="none" stroke="#8a8a70" stroke-width="0.7" stroke-dasharray="4 1.5 1 1.5"/>
<path d="M560.0 380.0C562.5 380.8 570.0 385.0 575.0 385.0C580.0 385.0 585.8 382.2 590.0 380.0C594.2 377.8 596.3 372.8 600.0 372.0C603.7 371.2 607.8 375.7 612.0 375.0C616.2 374.3 621.2 368.5 625.0 368.0C628.8 367.5 633.3 371.3 635.0 372.0" fill="none" stroke="#8a8a70" stroke-width="0.7" stroke-dasharray="4 1.5 1 1.5"/>
<path d="M560.0 380.0C560.3 382.5 560.3 390.8 562.0 395.0C563.7 399.2 566.2 402.5 570.0 405.0C573.8 407.5 580.0 410.0 585.0 410.0C590.0 410.0 595.5 404.7 600.0 405.0C604.5 405.3 607.8 409.5 612.0 412.0C616.2 414.5 622.8 418.7 625.0 420.0" fill="none" stroke="#8a8a70" stroke-width="0.7" stroke-dasharray="4 1.5 1 1.5"/>
<path d="M545.0 348.0C547.5 348.7 555.0 352.0 560.0 352.0C565.0 352.0 570.0 350.0 575.0 348.0C580.0 346.0 585.8 342.7 590.0 340.0C594.2 337.3 596.3 332.8 600.0 332.0C603.7 331.2 607.8 335.3 612.0 335.0C616.2 334.7 622.8 330.8 625.0 330.0" fill="none" stroke="#8a8a70" stroke-width="0.7" stroke-dasharray="4 1.5 1 1.5"/>
<path d="M612.0 375.0C613.3 377.5 617.0 386.2 620.0 390.0C623.0 393.8 626.7 395.5 630.0 398.0C633.3 400.5 636.7 404.7 640.0 405.0C643.3 405.3 646.7 400.0 650.0 400.0C653.3 400.0 658.3 404.2 660.0 405.0" fill="none" stroke="#8a8a70" stroke-width="0.7" stroke-dasharray="4 1.5 1 1.5"/>
<path d="M553.0 280.0C554.2 277.5 557.2 270.0 560.0 265.0C562.8 260.0 565.8 254.2 570.0 250.0C574.2 245.8 580.0 243.0 585.0 240.0C590.0 237.0 595.5 235.0 600.0 232.0C604.5 229.0 610.0 223.7 612.0 222.0" fill="none" stroke="#8a8a70" stroke-width="0.7" stroke-dasharray="4 1.5 1 1.5"/>
<path d="M612.0 222.0C614.2 220.8 620.3 217.8 625.0 215.0C629.7 212.2 635.0 207.5 640.0 205.0C645.0 202.5 650.3 202.5 655.0 200.0C659.7 197.5 663.8 190.8 668.0 190.0C672.2 189.2 676.3 192.5 680.0 195.0C683.7 197.5 686.7 201.7 690.0 205.0C693.3 208.3 698.3 213.3 700.0 215.0" fill="none" stroke="#8a8a70" stroke-width="0.7" stroke-dasharray="4 1.5 1 1.5"/>
<path d="M668.0 190.0C666.7 187.5 663.0 179.2 660.0 175.0C657.0 170.8 653.3 168.3 650.0 165.0C646.7 161.7 643.0 159.2 640.0 155.0C637.0 150.8 632.0 145.0 632.0 140.0C632.0 135.0 637.8 130.8 640.0 125.0C642.2 119.2 645.0 110.8 645.0 105.0C645.0 99.2 639.2 95.0 640.0 90.0C640.8 85.0 646.7 79.2 650.0 75.0C653.3 70.8 658.3 66.7 660.0 65.0" fill="none" stroke="#8a8a70" stroke-width="0.7" stroke-dasharray="4 1.5 1 1.5"/>
<path d="M650.0 165.0C652.5 164.5 660.0 162.0 665.0 162.0C670.0 162.0 675.0 163.7 680.0 165.0C685.0 166.3 690.0 169.5 695.0 170.0C700.0 170.5 705.0 167.2 710.0 168.0C715.0 168.8 720.0 174.3 725.0 175.0C730.0 175.7 736.0 171.2 740.0 172.0C744.0 172.8 747.5 178.7 749.0 180.0" fill="none" stroke="#8a8a70" stroke-width="0.7" stroke-dasharray="4 1.5 1 1.5"/>
<path d="M512.0 310.0C512.5 307.5 513.7 300.0 515.0 295.0C516.3 290.0 519.3 285.0 520.0 280.0C520.7 275.0 519.2 267.5 519.0 265.0" fill="none" stroke="#8a8a70" stroke-width="0.7" stroke-dasharray="4 1.5 1 1.5"/>
<path d="M84.0 295.0C84.6 293.8 88.0 290.2 87.8 287.7C87.6 285.2 85.5 282.5 82.8 280.0C80.1 277.5 73.6 275.5 71.5 272.6C69.4 269.7 69.2 265.5 70.0 262.6C70.8 259.7 73.3 257.3 76.0 255.0C78.7 252.7 82.0 251.5 86.0 249.0C90.0 246.5 93.5 242.9 100.0 240.0C106.5 237.1 116.7 234.0 125.0 231.5C133.3 229.0 141.7 226.2 150.0 225.0C158.3 223.8 166.7 223.6 175.0 224.0C183.3 224.4 193.7 225.8 200.0 227.5C206.3 229.2 209.2 231.5 213.0 234.0C216.8 236.5 219.7 239.6 223.0 242.7C226.3 245.8 231.0 249.6 233.0 252.7C235.0 255.8 234.7 260.0 235.0 261.5" fill="none" stroke="#7d9fb0" stroke-width="2.0" stroke-linecap="round"/>
<path d="M138.0 408.0C139.2 409.0 141.3 411.5 145.0 414.0C148.7 416.5 153.3 420.5 160.0 423.0C166.7 425.5 177.5 427.8 185.0 429.0C192.5 430.2 201.7 430.2 205.0 430.5" fill="none" stroke="#48b2d8" stroke-width="1.1" stroke-linecap="round"/>
<path d="M205.0 430.5C207.9 430.7 216.4 431.2 222.7 431.6C229.0 432.0 236.5 431.8 242.8 432.9C249.1 433.9 254.5 436.2 260.4 437.9C266.3 439.6 273.0 442.3 278.0 442.9C283.0 443.5 287.0 442.8 290.5 441.6C294.0 440.5 297.6 436.9 299.0 436.0" fill="none" stroke="#7d9fb0" stroke-width="2.0" stroke-linecap="round"/>
<path d="M252.8 355.0C255.7 355.4 264.2 357.8 270.4 357.6C276.6 357.4 285.0 354.8 290.0 354.0C295.0 353.2 297.1 352.0 300.5 352.6C303.9 353.2 306.8 354.3 310.5 357.6C314.2 360.9 318.8 367.2 323.0 372.6C327.2 378.0 331.8 385.0 335.6 390.0C339.4 395.0 342.7 399.0 345.6 402.8C348.5 406.6 351.4 409.9 353.0 412.8C354.6 415.7 354.6 415.0 355.4 420.0C356.2 425.0 356.7 435.1 358.0 442.6C359.3 450.1 360.5 457.5 363.0 465.0C365.5 472.5 370.7 482.5 373.0 487.8C375.3 493.1 373.8 494.5 376.7 496.6C379.6 498.7 386.1 500.0 390.5 500.4C394.9 500.8 399.9 500.7 403.0 499.0C406.1 497.3 408.0 491.5 409.0 490.0" fill="none" stroke="#2aa2dc" stroke-width="1.1" stroke-linecap="round"/>
<path d="M409.0 490.0C409.7 488.8 411.1 486.3 413.0 483.0C414.9 479.7 418.5 473.6 420.6 470.2C422.7 466.8 424.8 463.9 425.6 462.7" fill="none" stroke="#7d9fb0" stroke-width="2.0" stroke-linecap="round"/>
<path d="M346.0 403.0C347.2 404.7 351.4 409.8 353.0 413.0C354.6 416.2 355.0 420.5 355.4 422.0" fill="none" stroke="#7d9fb0" stroke-width="1.8" stroke-linecap="round"/>
<path d="M331.0 403.0C331.8 405.1 334.4 411.8 335.6 415.3C336.8 418.8 337.6 422.6 338.0 424.0" fill="none" stroke="#7d9fb0" stroke-width="1.8" stroke-linecap="round"/>
<path d="M425.6 462.7C427.6 462.1 432.7 460.6 437.6 459.0C442.5 457.4 450.6 455.1 455.2 452.8C459.8 450.5 461.0 448.6 465.2 445.3C469.4 442.0 476.1 436.4 480.3 432.8C484.5 429.2 486.1 426.1 490.3 424.0C494.5 421.9 500.4 420.8 505.4 420.2C510.4 419.6 516.2 418.9 520.4 420.2C524.6 421.4 526.7 425.2 530.5 427.7C534.3 430.2 539.2 433.2 543.0 435.3C546.8 437.4 549.7 440.7 553.0 440.3C556.3 439.9 560.1 435.5 563.0 432.8C565.9 430.1 567.7 424.9 570.6 424.0C573.5 423.1 577.2 426.0 580.6 427.7C584.0 429.4 586.9 433.6 590.7 434.0C594.5 434.4 599.4 432.5 603.2 430.2C607.0 427.9 610.5 423.5 613.3 420.2C616.1 416.9 617.4 414.5 620.2 410.3C623.0 406.1 627.7 398.8 630.2 395.2C632.7 391.6 631.9 389.8 635.3 389.0C638.6 388.2 645.7 389.8 650.3 390.2C654.9 390.6 659.3 390.4 662.9 391.5C666.5 392.6 670.1 395.7 671.6 396.5" fill="none" stroke="#2aa2dc" stroke-width="1.1" stroke-linecap="round"/>
<path d="M299.0 370.0C300.9 372.1 306.5 378.9 310.5 382.7C314.5 386.5 319.6 389.3 323.0 392.7C326.4 396.1 328.5 399.0 330.6 402.8C332.7 406.6 333.9 410.7 335.6 415.3C337.3 419.9 338.9 424.9 340.6 430.4C342.3 435.8 344.2 442.1 345.7 448.0C347.2 453.9 348.6 460.1 349.4 465.5C350.2 470.9 350.3 475.8 350.7 480.5C351.1 485.2 351.2 490.7 352.0 494.0C352.8 497.3 354.0 496.9 355.4 500.4C356.8 503.9 358.7 508.3 360.4 515.0C362.1 521.7 363.7 532.3 365.4 540.5C367.1 548.7 368.7 558.1 370.5 564.0C372.3 569.9 375.1 574.0 376.0 576.0" fill="none" stroke="#2aa2dc" stroke-width="1.0" stroke-linecap="round"/>
<path d="M300.0 436.0C299.3 437.5 296.8 441.8 296.0 445.0C295.2 448.2 294.3 452.2 295.0 455.0C295.7 457.8 298.5 460.7 300.0 462.0C301.5 463.3 303.3 462.8 304.0 463.0" fill="none" stroke="#2aa2dc" stroke-width="1.0" stroke-linecap="round"/>
<path d="M345.5 353.0C347.2 354.2 352.6 357.6 355.5 360.5C358.4 363.4 359.6 368.0 363.0 370.5C366.4 373.0 371.0 374.7 375.6 375.5C380.2 376.3 386.5 374.7 390.7 375.5C394.9 376.3 398.2 380.1 400.7 380.5C403.2 380.9 405.7 379.7 405.7 378.0C405.7 376.3 403.2 373.4 400.7 370.5C398.2 367.6 394.0 363.4 390.7 360.5C387.4 357.6 382.9 355.9 380.6 353.0C378.3 350.1 376.5 345.4 376.9 342.9C377.3 340.4 379.4 338.7 383.0 337.9C386.6 337.1 393.7 337.5 398.2 337.9C402.7 338.3 405.9 340.0 410.0 340.4C414.1 340.8 418.8 342.1 422.6 340.4C426.4 338.7 430.8 334.2 432.7 330.4C434.6 326.6 431.9 321.1 434.0 317.8C436.1 314.5 441.6 312.4 445.2 310.3C448.8 308.2 452.8 310.3 455.3 305.3C457.8 300.3 458.2 287.3 460.3 280.2C462.4 273.1 464.5 266.6 467.8 262.6C471.1 258.6 475.0 256.7 480.4 256.3C485.8 255.9 493.9 258.6 500.4 260.0C506.9 261.4 516.3 261.6 519.2 265.0C522.1 268.4 519.0 274.8 518.0 280.2C517.0 285.6 513.8 294.8 513.0 297.7" fill="none" stroke="#2aa2dc" stroke-width="1.1" stroke-linecap="round"/>
<path d="M513.0 297.7C512.6 301.1 510.9 311.1 510.5 317.8C510.1 324.5 510.3 331.6 510.5 337.9C510.7 344.2 510.9 351.6 511.7 355.4C512.5 359.2 512.4 360.9 515.5 360.5C518.6 360.1 525.9 354.7 530.5 353.0C535.1 351.3 538.8 350.4 543.0 350.4C547.2 350.4 551.4 353.0 555.6 353.0C559.8 353.0 564.4 352.5 568.2 350.4C572.0 348.3 574.9 344.2 578.2 340.4C581.5 336.6 585.3 331.4 588.2 327.8C591.1 324.2 592.1 322.6 595.7 319.0C599.3 315.4 605.3 309.0 610.0 306.0C614.7 303.0 621.7 301.8 624.0 301.0" fill="none" stroke="#6f9fb8" stroke-width="1.9" stroke-linecap="round"/>
<path d="M405.0 520.0C407.5 518.7 414.2 511.5 420.0 512.0C425.8 512.5 434.2 521.4 440.0 522.8C445.8 524.2 449.6 520.2 455.0 520.2C460.4 520.2 468.4 520.3 472.6 522.8C476.8 525.3 476.3 532.6 480.1 535.3C483.9 538.0 490.6 537.8 495.2 539.0C499.8 540.2 503.1 542.0 507.7 542.8C512.3 543.6 517.3 543.6 522.8 544.0C528.2 544.4 535.8 544.2 540.4 545.3C545.0 546.4 546.2 548.7 550.4 550.4C554.6 552.1 561.8 553.8 565.4 555.4C569.0 557.0 570.9 559.2 572.0 560.0" fill="none" stroke="#2aa2dc" stroke-width="1.1" stroke-linecap="round"/>
<path d="M570.0 112.0C572.5 111.3 580.0 110.0 585.0 108.0C590.0 106.0 595.5 102.2 600.0 100.0C604.5 97.8 610.0 95.8 612.0 95.0" fill="none" stroke="#2aa2dc" stroke-width="0.9" stroke-linecap="round"/>
</g>
<path d="M683.0 244.0L678.0 251.5L665.4 257.7L653.0 265.0L648.0 270.0L645.0 262.7L650.4 252.7L650.4 242.7L645.0 237.7L638.0 241.4L634.0 250.0L625.0 262.7L612.7 275.0L602.7 277.8L601.5 286.6L615.0 295.0L620.0 304.0L629.0 306.6L638.0 295.0L643.0 290.0L655.4 294.0L666.7 296.6L664.0 304.0L653.0 310.4L645.0 315.4L639.0 321.7L635.0 333.0L631.5 340.0L645.0 355.0L656.6 375.0L668.0 386.5L673.0 395.0L669.0 403.0L679.0 409.0L666.0 414.0L683.0 423.0L678.0 440.0L670.0 455.0L663.0 470.5L656.6 480.5L651.8 495.0L644.0 506.0L636.8 516.4L626.7 530.0L615.4 541.5L600.0 550.0L585.0 555.0L575.0 559.0L570.0 564.0L555.0 567.8L544.0 572.8L532.6 576.6L522.6 581.6L525.0 590.4L521.4 596.7L515.0 591.6L515.0 581.6L510.0 576.6L490.0 576.6L486.8 576.6" fill="none" stroke="#39b7e6" stroke-width="0.9"/>
<path d="M518.0 603.0L528.0 604.5L533.0 610.0L530.0 618.0L524.0 625.0L514.0 631.0L505.0 629.0L499.0 621.0L498.0 612.0L505.0 606.0Z" fill="none" stroke="#39b7e6" stroke-width="0.8"/>
<path d="M687.0 496.0L691.0 503.0L690.7 512.6L688.0 528.0L685.7 542.7L683.0 551.5L679.0 545.0L673.0 535.0L670.6 527.0L671.0 517.0L674.0 508.0L680.0 499.0Z" fill="none" stroke="#39b7e6" stroke-width="0.8"/>
<path d="M588.0 96.5L593.0 87.7L595.4 72.6L603.0 62.6L596.7 52.6L600.5 45.0L615.5 37.5L630.6 32.5L645.6 37.5L660.7 45.0L670.7 57.6L674.0 65.0L682.7 82.6L695.0 84.0L705.0 87.6L720.0 95.0L729.0 104.0L743.0 101.4L745.4 91.4L765.5 84.0" fill="none" stroke="#35b0e6" stroke-width="1.4"/>
<path d="M588.0 96.5L593.0 87.7L595.4 72.6L603.0 62.6L596.7 52.6L600.5 45.0L615.5 37.5L630.6 32.5L645.6 37.5L660.7 45.0L670.7 57.6L674.0 65.0L682.7 82.6L695.0 84.0L705.0 87.6L720.0 95.0L729.0 104.0L743.0 101.4L745.4 91.4L765.5 84.0" fill="none" stroke="#000" stroke-width="1.5" stroke-dasharray="3 14"/>
<path d="M246.5 104.0L254.0 105.0L258.0 118.0L268.0 126.0L277.0 133.0L282.0 149.0L277.0 168.0L283.0 175.0L293.0 180.0L309.0 183.0L318.0 192.0L325.5 198.0L333.0 210.0L334.0 218.0L340.0 221.5L355.0 224.0L380.0 226.5L400.0 229.0L415.0 238.0L435.0 243.0L450.0 238.0L465.5 233.0L485.5 230.0L500.5 225.0L510.5 215.0L520.7 208.0L517.0 196.5L519.0 186.0L531.0 184.0L543.0 187.6L552.8 178.0L566.6 173.0L570.4 161.7L578.0 158.0L593.0 149.0L600.5 150.4L609.0 146.7L603.0 140.4L595.4 133.0L581.6 130.4L564.0 136.6L559.0 130.4L562.8 115.3L566.6 104.0L579.0 104.0L588.0 96.5" fill="none" stroke="#000" stroke-width="1.7" stroke-dasharray="5.5 1.8 1.5 1.8" stroke-linejoin="round"/>
<path d="M765.5 84.0L766.8 95.0L763.0 112.7L764.0 125.0L759.0 136.6L755.5 142.8L746.7 142.8L741.7 153.0L745.4 163.0L749.0 175.4L749.0 184.0L743.0 190.5L736.7 188.0L734.0 195.5L728.0 203.0L719.0 208.0L720.6 215.0L703.0 215.0L700.5 222.6L693.0 230.0L683.0 244.0" fill="none" stroke="#000" stroke-width="1.7" stroke-dasharray="5.5 1.8 1.5 1.8" stroke-linejoin="round"/>
<path d="M486.8 576.6L473.0 574.0L466.8 565.0L463.0 555.0L451.7 554.0L446.7 547.7L438.0 555.0L428.0 559.0L415.0 561.5L405.0 560.0L395.0 561.5L389.0 567.8L390.0 581.6L381.5 580.4L379.0 574.0L369.0 576.6L362.6 569.0L352.6 564.0L356.4 552.8L349.0 547.7L347.6 539.0L342.6 532.7L330.0 534.0L327.5 526.4L331.0 516.4L344.0 507.6L349.0 495.0L349.0 480.0L344.0 476.5L343.0 466.5L336.6 460.0L325.0 467.7L315.0 464.0L304.0 461.5L290.0 467.7L282.6 472.7L275.0 480.0L257.5 479.0L255.0 472.7L250.0 470.0L247.5 460.0L235.6 456.6L225.6 451.6L214.3 456.6L211.8 464.0L208.0 465.0L205.5 452.8L193.0 454.0L180.4 447.8L168.0 445.0L155.3 435.0L145.3 422.7L137.8 419.0L126.5 405.0L120.0 395.0L109.0 397.6L97.6 387.6L85.0 377.5L80.0 367.5L82.8 363.0L81.5 350.5L93.0 348.0L89.0 333.0L95.0 321.5L89.0 313.0L89.0 305.0L82.8 295.0L67.7 286.5L66.5 272.6L53.0 260.6L60.0 255.0L62.7 236.0L52.7 231.0L54.0 218.0L61.5 210.5L81.5 208.0L86.5 215.5L95.0 214.0L104.0 206.5L110.0 209.0L125.5 204.0L145.5 199.0L149.0 186.5L155.5 184.0L157.0 159.0L153.0 153.0L182.0 151.0L186.0 141.0L196.0 126.0L207.6 132.6L224.0 126.0L227.7 116.0L240.0 111.0L246.5 104.0" fill="none" stroke="#000" stroke-width="1.7" stroke-dasharray="5.5 1.8 1.5 1.8" stroke-linejoin="round"/>
<rect x="6.4" y="6.4" width="864.8" height="642.6" fill="none" stroke="#000" stroke-width="1.9"/>
<rect x="9.6" y="9.6" width="858.9" height="636.4" fill="none" stroke="#555" stroke-width="0.9"/>
<g>
<g fill="#1b1a86"><path d="M0 0C2.4 -1.9 5.6 -1.9 8.0 0C5.6 1.9 2.4 1.9 0 0Z" transform="translate(60.0 69.8) rotate(-140.2)"/><path d="M0 0C1.9 -1.9 4.5 -1.9 6.4 0C4.5 1.9 1.9 1.9 0 0Z" transform="translate(60.0 69.8) rotate(-202.2)"/><path d="M0 0C2.4 -1.9 5.6 -1.9 8.0 0C5.6 1.9 2.4 1.9 0 0Z" transform="translate(50.7 67.8) rotate(-131.1)"/><path d="M0 0C1.9 -1.9 4.5 -1.9 6.4 0C4.5 1.9 1.9 1.9 0 0Z" transform="translate(50.7 67.8) rotate(-193.1)"/><path d="M0 0C2.4 -1.9 5.6 -1.9 8.0 0C5.6 1.9 2.4 1.9 0 0Z" transform="translate(42.5 64.5) rotate(-120.5)"/><path d="M0 0C1.9 -1.9 4.5 -1.9 6.4 0C4.5 1.9 1.9 1.9 0 0Z" transform="translate(42.5 64.5) rotate(-182.5)"/><path d="M0 0C2.4 -1.9 5.6 -1.9 8.0 0C5.6 1.9 2.4 1.9 0 0Z" transform="translate(36.0 60.1) rotate(-107.2)"/><path d="M0 0C1.9 -1.9 4.5 -1.9 6.4 0C4.5 1.9 1.9 1.9 0 0Z" transform="translate(36.0 60.1) rotate(-169.2)"/><path d="M0 0C2.4 -1.9 5.6 -1.9 8.0 0C5.6 1.9 2.4 1.9 0 0Z" transform="translate(31.5 54.9) rotate(-89.9)"/><path d="M0 0C1.9 -1.9 4.5 -1.9 6.4 0C4.5 1.9 1.9 1.9 0 0Z" transform="translate(31.5 54.9) rotate(-151.9)"/><path d="M0 0C2.4 -1.9 5.6 -1.9 8.0 0C5.6 1.9 2.4 1.9 0 0Z" transform="translate(29.2 49.3) rotate(-68.1)"/><path d="M0 0C1.9 -1.9 4.5 -1.9 6.4 0C4.5 1.9 1.9 1.9 0 0Z" transform="translate(29.2 49.3) rotate(-130.1)"/><path d="M0 0C2.4 -1.9 5.6 -1.9 8.0 0C5.6 1.9 2.4 1.9 0 0Z" transform="translate(29.4 43.4) rotate(-44.3)"/><path d="M0 0C1.9 -1.9 4.5 -1.9 6.4 0C4.5 1.9 1.9 1.9 0 0Z" transform="translate(29.4 43.4) rotate(-106.3)"/><path d="M0 0C2.4 -1.9 5.6 -1.9 8.0 0C5.6 1.9 2.4 1.9 0 0Z" transform="translate(32.0 37.8) rotate(-23.1)"/><path d="M0 0C1.9 -1.9 4.5 -1.9 6.4 0C4.5 1.9 1.9 1.9 0 0Z" transform="translate(32.0 37.8) rotate(-85.1)"/><path d="M0 0C1.8 -1.9 4.2 -1.9 6.0 0C4.2 1.9 1.8 1.9 0 0Z" transform="translate(36.9 32.7) rotate(-6.5)"/><path d="M0 0C1.4 -1.9 3.4 -1.9 4.8 0C3.4 1.9 1.4 1.9 0 0Z" transform="translate(36.9 32.7) rotate(-68.5)"/><path d="M0 0C1.8 -1.9 4.2 -1.9 6.0 0C4.2 1.9 1.8 1.9 0 0Z" transform="translate(43.7 28.5) rotate(6.3)"/><path d="M0 0C1.4 -1.9 3.4 -1.9 4.8 0C3.4 1.9 1.4 1.9 0 0Z" transform="translate(43.7 28.5) rotate(-55.7)"/><path d="M0 0C2.4 -1.9 5.6 -1.9 8.0 0C5.6 1.9 2.4 1.9 0 0Z" transform="translate(78.0 69.8) rotate(-39.8)"/><path d="M0 0C1.9 -1.9 4.5 -1.9 6.4 0C4.5 1.9 1.9 1.9 0 0Z" transform="translate(78.0 69.8) rotate(22.2)"/><path d="M0 0C2.4 -1.9 5.6 -1.9 8.0 0C5.6 1.9 2.4 1.9 0 0Z" transform="translate(87.3 67.8) rotate(-48.9)"/><path d="M0 0C1.9 -1.9 4.5 -1.9 6.4 0C4.5 1.9 1.9 1.9 0 0Z" transform="translate(87.3 67.8) rotate(13.1)"/><path d="M0 0C2.4 -1.9 5.6 -1.9 8.0 0C5.6 1.9 2.4 1.9 0 0Z" transform="translate(95.5 64.5) rotate(-59.5)"/><path d="M0 0C1.9 -1.9 4.5 -1.9 6.4 0C4.5 1.9 1.9 1.9 0 0Z" transform="translate(95.5 64.5) rotate(2.5)"/><path d="M0 0C2.4 -1.9 5.6 -1.9 8.0 0C5.6 1.9 2.4 1.9 0 0Z" transform="translate(102.0 60.1) rotate(-72.8)"/><path d="M0 0C1.9 -1.9 4.5 -1.9 6.4 0C4.5 1.9 1.9 1.9 0 0Z" transform="translate(102.0 60.1) rotate(-10.8)"/><path d="M0 0C2.4 -1.9 5.6 -1.9 8.0 0C5.6 1.9 2.4 1.9 0 0Z" transform="translate(106.5 54.9) rotate(-90.1)"/><path d="M0 0C1.9 -1.9 4.5 -1.9 6.4 0C4.5 1.9 1.9 1.9 0 0Z" transform="translate(106.5 54.9) rotate(-28.1)"/><path d="M0 0C2.4 -1.9 5.6 -1.9 8.0 0C5.6 1.9 2.4 1.9 0 0Z" transform="translate(108.8 49.3) rotate(-111.9)"/><path d="M0 0C1.9 -1.9 4.5 -1.9 6.4 0C4.5 1.9 1.9 1.9 0 0Z" transform="translate(108.8 49.3) rotate(-49.9)"/><path d="M0 0C2.4 -1.9 5.6 -1.9 8.0 0C5.6 1.9 2.4 1.9 0 0Z" transform="translate(108.6 43.4) rotate(-135.7)"/><path d="M0 0C1.9 -1.9 4.5 -1.9 6.4 0C4.5 1.9 1.9 1.9 0 0Z" transform="translate(108.6 43.4) rotate(-73.7)"/><path d="M0 0C2.4 -1.9 5.6 -1.9 8.0 0C5.6 1.9 2.4 1.9 0 0Z" transform="translate(106.0 37.8) rotate(-156.9)"/><path d="M0 0C1.9 -1.9 4.5 -1.9 6.4 0C4.5 1.9 1.9 1.9 0 0Z" transform="translate(106.0 37.8) rotate(-94.9)"/><path d="M0 0C1.8 -1.9 4.2 -1.9 6.0 0C4.2 1.9 1.8 1.9 0 0Z" transform="translate(101.1 32.7) rotate(-173.5)"/><path d="M0 0C1.4 -1.9 3.4 -1.9 4.8 0C3.4 1.9 1.4 1.9 0 0Z" transform="translate(101.1 32.7) rotate(-111.5)"/><path d="M0 0C1.8 -1.9 4.2 -1.9 6.0 0C4.2 1.9 1.8 1.9 0 0Z" transform="translate(94.3 28.5) rotate(-186.3)"/><path d="M0 0C1.4 -1.9 3.4 -1.9 4.8 0C3.4 1.9 1.4 1.9 0 0Z" transform="translate(94.3 28.5) rotate(-124.3)"/></g>
<path d="M62 69.5L74 72.8M76 69.5L64 72.8" stroke="#1b1a86" stroke-width="1.5" fill="none"/>
<ellipse cx="69.0" cy="46.8" rx="34.6" ry="19.2" fill="#fff" stroke="#1b1a86" stroke-width="1.5"/>
<ellipse cx="69.0" cy="46.8" rx="31.5" ry="16.6" fill="none" stroke="#1b1a86" stroke-width="0.8"/>
<path d="M34.5 46.8L103.5 46.8" stroke="#1b1a86" stroke-width="0.8"/>
<path d="M40 37.5Q69 30.5 98 37.5M40 56Q69 63.5 98 56M48 32.5Q69 27 90 32.5M48 61Q69 67 90 61" fill="none" stroke="#1b1a86" stroke-width="0.8"/>
<ellipse cx="69.0" cy="46.8" rx="8" ry="19.2" fill="none" stroke="#1b1a86" stroke-width="0.8"/>
<ellipse cx="69.0" cy="46.8" rx="20" ry="19.2" fill="none" stroke="#1b1a86" stroke-width="0.8"/>
<path d="M69 27.6L69 66" stroke="#1b1a86" stroke-width="0.8"/>
<path d="M42 41C44 36 50 34 54 31.5C58 30 62 32 64 35C66 37 64 40 65 43C66 47 63 50 62 53C60 57 57 58.5 55.5 56C54 53 52 54 50.5 51C49 48 46 49 44 46.5C42 45 41.5 43 42 41Z" fill="#fff" stroke="#1b1a86" stroke-width="1.1"/>
<path d="M55 50.5C57 50 58.5 51.5 58 53.5C57 55 55 54.5 54.5 53C54.2 52 54.5 51 55 50.5Z" fill="#fff" stroke="#1b1a86" stroke-width="0.9"/>
<text x="0" y="0" transform="translate(66.3 56.2) scale(0.66 1) skewX(-12)" font-family="Liberation Sans, sans-serif" font-weight="bold" font-size="23.5" fill="#1b1a86" stroke="#1b1a86" stroke-width="1.3" stroke-linejoin="round">NCC</text>
<text x="57" y="25.8" text-anchor="middle" font-family="Liberation Sans, sans-serif" font-weight="bold" font-size="6.3" fill="#1b1a86">中</text>
<text x="80.5" y="25.8" text-anchor="middle" font-family="Liberation Sans, sans-serif" font-weight="bold" font-size="6.3" fill="#1b1a86">国</text>
</g>
<line x1="707" y1="502.5" x2="707" y2="513.5" stroke="#000" stroke-width="1.6"/>
<line x1="700.5" y1="555.5" x2="694" y2="566.5" stroke="#000" stroke-width="1.6"/>
<line x1="678.5" y1="600.5" x2="675.5" y2="610.5" stroke="#000" stroke-width="1.6"/>
<path d="M705.6 512.6l2.8 0M693.2 565l2.6 1.6M674.2 609.5l2.8 0.8" stroke="#000" stroke-width="1.2" fill="none"/>
<rect x="11.6" y="430.8" width="135" height="212.8" fill="#fff" stroke="#000" stroke-width="1.2"/>
<rect x="18.2" y="474.6" width="37.3" height="11.8" fill="#3a00e0" stroke="#111" stroke-width="1"/>
<rect x="18.2" y="493.4" width="37.3" height="11.8" fill="#1e82f0" stroke="#111" stroke-width="1"/>
<rect x="18.2" y="512.3" width="37.3" height="11.8" fill="#00ffff" stroke="#111" stroke-width="1"/>
<rect x="18.2" y="531.1" width="37.3" height="11.8" fill="#00bb3f" stroke="#111" stroke-width="1"/>
<rect x="18.2" y="549.9" width="37.3" height="11.8" fill="#bfffcc" stroke="#111" stroke-width="1"/>
<rect x="18.2" y="568.8" width="37.3" height="11.8" fill="#ffff99" stroke="#111" stroke-width="1"/>
<rect x="18.2" y="587.6" width="37.3" height="11.8" fill="#ff9966" stroke="#111" stroke-width="1"/>
<rect x="18.2" y="606.4" width="37.3" height="11.8" fill="#ff6868" stroke="#111" stroke-width="1"/>
<rect x="18.2" y="625.2" width="37.3" height="11.8" fill="#ff1515" stroke="#111" stroke-width="1"/>
<rect x="733.6" y="490.4" width="131.4" height="153" fill="#fff" stroke="#000" stroke-width="1.3"/>
<g clip-path="url(#ins)">
<path d="M730 486L820 486L816 490L811 492L798 497.3L784.5 502.6L775 506.6L773 512L770 515L768 508L763 505L756.5 506.6L748 504L744 497L736 494L730 492Z" fill="#bfffcc" stroke="#39b7e6" stroke-width="0.7"/>
<path d="M744 486L780 486L776 494L770 500L762 503L754 500L748 496Z" fill="#ffff99"/>
<path d="M781 486L800 486L798 494L790 500L783 501L780 494Z" fill="#00bb3f"/>
<path d="M733 491L738 494.5L744 497L746.5 503.5L756.5 506.6" fill="none" stroke="#000" stroke-width="1.6" stroke-dasharray="4 1.5 1 1.5"/>
<ellipse cx="768.5" cy="522" rx="8" ry="6.8" fill="#bfffcc" stroke="#39b7e6" stroke-width="0.7" transform="rotate(-25 768.5 522)"/>
<ellipse cx="771.5" cy="520" rx="3.6" ry="3" fill="#00bb3f"/>
<path d="M838 490L841 494L844 491" fill="none" stroke="#39b7e6" stroke-width="0.8"/>
<line x1="849" y1="496" x2="845" y2="505" stroke="#000" stroke-width="1.5"/>
<line x1="839" y1="516" x2="836.5" y2="526" stroke="#000" stroke-width="1.5"/>
<line x1="836" y1="537" x2="836.5" y2="548" stroke="#000" stroke-width="1.5"/>
<line x1="839.5" y1="565" x2="836.5" y2="575" stroke="#000" stroke-width="1.5"/>
<line x1="822.5" y1="593.5" x2="816" y2="600.5" stroke="#000" stroke-width="1.5"/>
<line x1="799" y1="624.5" x2="791.5" y2="627.5" stroke="#000" stroke-width="1.5"/>
<line x1="760.5" y1="603" x2="760.5" y2="612.5" stroke="#000" stroke-width="1.5"/>
<line x1="774.5" y1="568.5" x2="773" y2="578" stroke="#000" stroke-width="1.5"/>
<line x1="765.5" y1="540.5" x2="768" y2="549.5" stroke="#000" stroke-width="1.5"/>
<path d="M783.5 537.5l0.8 0.2M788.1 536.7l1.2 0.2M786.5 539.7l1.2 0.6M779.8 541.1l1.2 0.6M779.5 540.3l0.3 0.2M780.0 536.9l0.3 -0.8M784.9 544.3l0.3 0.6M780.7 538.2l0.3 0.6M787.8 545.5l0.8 -0.8M803.5 542.6l0.3 0.6M805.9 541.2l0.8 0.2M805.2 542.2l1.2 -0.8M800.9 541.5l0.3 0.6M810.4 582.4l0.8 -0.8M807.3 579.1l1.2 -0.8M818.3 576.2l0.8 0.2M816.1 571.9l0.3 -0.8M804.4 573.9l1.2 0.2M819.3 577.0l1.2 -0.8M810.5 579.2l0.8 0.6M813.9 575.2l0.8 0.6M822.1 580.8l1.2 0.6M808.9 579.0l1.2 0.6M815.6 583.3l1.2 0.2M820.5 575.0l0.3 0.6M826.5 572.7l1.2 0.2M813.0 581.6l1.2 0.2M806.6 577.8l0.8 0.2M803.9 580.4l0.8 -0.8M821.3 579.0l0.3 0.6M824.0 575.4l1.2 0.6M819.7 579.3l1.2 0.2M816.9 577.4l1.2 0.6M823.2 584.2l0.3 -0.8M814.4 580.3l1.2 -0.8M804.5 580.8l0.3 0.6M818.5 584.9l0.3 0.6M822.7 575.0l0.8 0.6M812.3 580.4l0.8 0.6M784.6 591.5l0.3 -0.8M788.7 586.6l0.3 0.6M785.7 595.8l0.3 0.2M787.6 588.5l1.2 0.2M794.9 597.2l1.2 0.6M786.3 591.3l0.3 0.2M799.4 597.4l0.8 0.6M806.9 597.1l0.8 0.2M791.8 590.8l0.3 0.6M794.0 597.4l0.3 0.2M810.8 587.1l0.8 -0.8M788.9 588.2l0.8 0.6M790.5 591.8l0.8 -0.8M800.5 588.7l0.8 -0.8M784.1 590.9l0.3 0.6M794.3 592.9l0.3 -0.8M810.7 594.7l1.2 0.2M798.4 593.6l1.2 0.6M802.9 585.8l0.8 0.2M809.2 595.9l1.2 -0.8M808.5 596.2l0.3 0.2M795.0 590.6l0.3 -0.8M792.6 613.6l0.3 0.6M792.4 606.8l0.3 0.6M793.3 607.9l0.3 0.2M794.0 606.6l0.8 -0.8M792.0 607.8l0.8 0.2M792.6 610.4l0.8 0.6M792.2 616.5l0.8 0.6M770.9 595.9l1.2 0.2M768.0 597.1l0.3 0.6M768.9 595.7l0.3 0.6M772.8 601.0l1.2 0.2M805.7 574.9l0.3 0.2M802.7 571.8l0.3 -0.8M804.7 573.1l0.8 0.2M808.6 572.3l0.8 0.6M802.2 578.6l0.8 -0.8M806.2 572.2l0.8 0.6M806.3 571.2l0.3 -0.8M806.2 578.8l0.3 0.6M807.0 507.0l0.8 -0.8M817.0 505.0l1.2 0.2M812.0 517.0l0.3 0.2M797.0 520.0l0.3 0.6M818.0 538.0l0.3 -0.8" fill="none" stroke="#39b7e6" stroke-width="1.1" stroke-linecap="round"/>
</g>
<path d="M626.5 581l1 .4M690 482l1 .4M735 474l.8 .4M662 523l1 1M661 518l.6 1M698 551l1 .6M611 575l1 0M628 583l1 .5M656 296l1 1M650 283l1 1M655 279l1 .5M660 286l.8 .8M687 425l1 1M690 430l1 1M684 432l1 1M545 574l1 1M536 582l1 .5" fill="none" stroke="#39b7e6" stroke-width="1" stroke-linecap="round"/>
<circle cx="236.5" cy="189.8" r="2.7" fill="#f4f4e8" fill-opacity="0.6" stroke="#3b3b3b" stroke-width="0.8"/><circle cx="236.5" cy="189.8" r="1.1" fill="none" stroke="#3b3b3b" stroke-width="0.7"/>
<circle cx="245" cy="431.5" r="2.7" fill="#f4f4e8" fill-opacity="0.6" stroke="#3b3b3b" stroke-width="0.8"/><circle cx="245" cy="431.5" r="1.1" fill="none" stroke="#3b3b3b" stroke-width="0.7"/>
<circle cx="392" cy="326.6" r="2.7" fill="#f4f4e8" fill-opacity="0.6" stroke="#3b3b3b" stroke-width="0.8"/><circle cx="392" cy="326.6" r="1.1" fill="none" stroke="#3b3b3b" stroke-width="0.7"/>
<circle cx="423.2" cy="340.4" r="2.7" fill="#f4f4e8" fill-opacity="0.6" stroke="#3b3b3b" stroke-width="0.8"/><circle cx="423.2" cy="340.4" r="1.1" fill="none" stroke="#3b3b3b" stroke-width="0.7"/>
<circle cx="456" cy="297" r="2.7" fill="#f4f4e8" fill-opacity="0.6" stroke="#3b3b3b" stroke-width="0.8"/><circle cx="456" cy="297" r="1.1" fill="none" stroke="#3b3b3b" stroke-width="0.7"/>
<circle cx="521.7" cy="262" r="2.7" fill="#f4f4e8" fill-opacity="0.6" stroke="#3b3b3b" stroke-width="0.8"/><circle cx="521.7" cy="262" r="1.1" fill="none" stroke="#3b3b3b" stroke-width="0.7"/>
<polygon points="578.0,261.9 578.9,264.3 581.4,264.4 579.4,266.0 580.1,268.4 578.0,267.0 575.9,268.4 576.6,266.0 574.6,264.4 577.1,264.3" fill="#e01020"/>
<circle cx="592.7" cy="277.8" r="2.7" fill="#f4f4e8" fill-opacity="0.6" stroke="#3b3b3b" stroke-width="0.8"/><circle cx="592.7" cy="277.8" r="1.1" fill="none" stroke="#3b3b3b" stroke-width="0.7"/>
<circle cx="561.4" cy="298.3" r="2.7" fill="#f4f4e8" fill-opacity="0.6" stroke="#3b3b3b" stroke-width="0.8"/><circle cx="561.4" cy="298.3" r="1.1" fill="none" stroke="#3b3b3b" stroke-width="0.7"/>
<circle cx="536.5" cy="302.7" r="2.7" fill="#f4f4e8" fill-opacity="0.6" stroke="#3b3b3b" stroke-width="0.8"/><circle cx="536.5" cy="302.7" r="1.1" fill="none" stroke="#3b3b3b" stroke-width="0.7"/>
<circle cx="596.4" cy="319" r="2.7" fill="#f4f4e8" fill-opacity="0.6" stroke="#3b3b3b" stroke-width="0.8"/><circle cx="596.4" cy="319" r="1.1" fill="none" stroke="#3b3b3b" stroke-width="0.7"/>
<circle cx="663" cy="221.4" r="2.7" fill="#f4f4e8" fill-opacity="0.6" stroke="#3b3b3b" stroke-width="0.8"/><circle cx="663" cy="221.4" r="1.1" fill="none" stroke="#3b3b3b" stroke-width="0.7"/>
<circle cx="677.7" cy="179.7" r="2.7" fill="#f4f4e8" fill-opacity="0.6" stroke="#3b3b3b" stroke-width="0.8"/><circle cx="677.7" cy="179.7" r="1.1" fill="none" stroke="#3b3b3b" stroke-width="0.7"/>
<circle cx="686.5" cy="149" r="2.7" fill="#f4f4e8" fill-opacity="0.6" stroke="#3b3b3b" stroke-width="0.8"/><circle cx="686.5" cy="149" r="1.1" fill="none" stroke="#3b3b3b" stroke-width="0.7"/>
<circle cx="493.4" cy="366.7" r="2.7" fill="#f4f4e8" fill-opacity="0.6" stroke="#3b3b3b" stroke-width="0.8"/><circle cx="493.4" cy="366.7" r="1.1" fill="none" stroke="#3b3b3b" stroke-width="0.7"/>
<circle cx="555.6" cy="353.7" r="2.7" fill="#f4f4e8" fill-opacity="0.6" stroke="#3b3b3b" stroke-width="0.8"/><circle cx="555.6" cy="353.7" r="1.1" fill="none" stroke="#3b3b3b" stroke-width="0.7"/>
<circle cx="432.6" cy="425.5" r="2.7" fill="#f4f4e8" fill-opacity="0.6" stroke="#3b3b3b" stroke-width="0.8"/><circle cx="432.6" cy="425.5" r="1.1" fill="none" stroke="#3b3b3b" stroke-width="0.7"/>
<circle cx="462.2" cy="446" r="2.7" fill="#f4f4e8" fill-opacity="0.6" stroke="#3b3b3b" stroke-width="0.8"/><circle cx="462.2" cy="446" r="1.1" fill="none" stroke="#3b3b3b" stroke-width="0.7"/>
<circle cx="463.6" cy="488.6" r="2.7" fill="#f4f4e8" fill-opacity="0.6" stroke="#3b3b3b" stroke-width="0.8"/><circle cx="463.6" cy="488.6" r="1.1" fill="none" stroke="#3b3b3b" stroke-width="0.7"/>
<circle cx="405.6" cy="520" r="2.7" fill="#f4f4e8" fill-opacity="0.6" stroke="#3b3b3b" stroke-width="0.8"/><circle cx="405.6" cy="520" r="1.1" fill="none" stroke="#3b3b3b" stroke-width="0.7"/>
<circle cx="570.6" cy="422.7" r="2.7" fill="#f4f4e8" fill-opacity="0.6" stroke="#3b3b3b" stroke-width="0.8"/><circle cx="570.6" cy="422.7" r="1.1" fill="none" stroke="#3b3b3b" stroke-width="0.7"/>
<circle cx="555.7" cy="463.2" r="2.7" fill="#f4f4e8" fill-opacity="0.6" stroke="#3b3b3b" stroke-width="0.8"/><circle cx="555.7" cy="463.2" r="1.1" fill="none" stroke="#3b3b3b" stroke-width="0.7"/>
<circle cx="596" cy="452.6" r="2.7" fill="#f4f4e8" fill-opacity="0.6" stroke="#3b3b3b" stroke-width="0.8"/><circle cx="596" cy="452.6" r="1.1" fill="none" stroke="#3b3b3b" stroke-width="0.7"/>
<circle cx="609.2" cy="397" r="2.7" fill="#f4f4e8" fill-opacity="0.6" stroke="#3b3b3b" stroke-width="0.8"/><circle cx="609.2" cy="397" r="1.1" fill="none" stroke="#3b3b3b" stroke-width="0.7"/>
<circle cx="629.5" cy="386.5" r="2.7" fill="#f4f4e8" fill-opacity="0.6" stroke="#3b3b3b" stroke-width="0.8"/><circle cx="629.5" cy="386.5" r="1.1" fill="none" stroke="#3b3b3b" stroke-width="0.7"/>
<circle cx="668.4" cy="398" r="2.7" fill="#f4f4e8" fill-opacity="0.6" stroke="#3b3b3b" stroke-width="0.8"/><circle cx="668.4" cy="398" r="1.1" fill="none" stroke="#3b3b3b" stroke-width="0.7"/>
<circle cx="652.8" cy="417.8" r="2.7" fill="#f4f4e8" fill-opacity="0.6" stroke="#3b3b3b" stroke-width="0.8"/><circle cx="652.8" cy="417.8" r="1.1" fill="none" stroke="#3b3b3b" stroke-width="0.7"/>
<circle cx="651.8" cy="489.2" r="2.7" fill="#f4f4e8" fill-opacity="0.6" stroke="#3b3b3b" stroke-width="0.8"/><circle cx="651.8" cy="489.2" r="1.1" fill="none" stroke="#3b3b3b" stroke-width="0.7"/>
<circle cx="687" cy="498.8" r="2.7" fill="#f4f4e8" fill-opacity="0.6" stroke="#3b3b3b" stroke-width="0.8"/><circle cx="687" cy="498.8" r="1.1" fill="none" stroke="#3b3b3b" stroke-width="0.7"/>
<circle cx="565.2" cy="545.5" r="2.7" fill="#f4f4e8" fill-opacity="0.6" stroke="#3b3b3b" stroke-width="0.8"/><circle cx="565.2" cy="545.5" r="1.1" fill="none" stroke="#3b3b3b" stroke-width="0.7"/>
<circle cx="581.4" cy="556.5" r="2.7" fill="#f4f4e8" fill-opacity="0.6" stroke="#3b3b3b" stroke-width="0.8"/><circle cx="581.4" cy="556.5" r="1.1" fill="none" stroke="#3b3b3b" stroke-width="0.7"/>
<circle cx="571.6" cy="559.7" r="2.7" fill="#f4f4e8" fill-opacity="0.6" stroke="#3b3b3b" stroke-width="0.8"/><circle cx="571.6" cy="559.7" r="1.1" fill="none" stroke="#3b3b3b" stroke-width="0.7"/>
<circle cx="491.4" cy="555.5" r="2.7" fill="#f4f4e8" fill-opacity="0.6" stroke="#3b3b3b" stroke-width="0.8"/><circle cx="491.4" cy="555.5" r="1.1" fill="none" stroke="#3b3b3b" stroke-width="0.7"/>
<circle cx="524.8" cy="599.8" r="2.7" fill="#f4f4e8" fill-opacity="0.6" stroke="#3b3b3b" stroke-width="0.8"/><circle cx="524.8" cy="599.8" r="1.1" fill="none" stroke="#3b3b3b" stroke-width="0.7"/>
</svg>
<div class="t" style="left:294px;top:35.5px;font-size:20px;letter-spacing:2.25px;">全国降水量距平百分率分布图</div>
<div class="t" style="left:385.5px;top:74px;font-size:17px;letter-spacing:1.1px;">2025年夏季</div>
<div class="t" style="left:223px;top:593px;font-size:11.6px;">国家气候中心</div>
<div class="t" style="left:191px;top:610px;font-size:11.2px;letter-spacing:0.15px;">审图号:GS(2019)1786号</div>
<div class="t" style="left:207.5px;top:630.2px;font-size:10.4px;letter-spacing:0.3px;">比例尺:1:20 000 000</div>
<div class="t" style="left:61px;top:438px;font-size:13.5px;font-weight:bold;letter-spacing:7px;">图例</div>
<div class="lg" style="left:52px;top:455.5px;font-size:12px;">(单位:%)</div>
<div class="lg" style="left:68.0px;top:474.3px;transform:scale(1.02,1.12);transform-origin:0 50%;">&gt;</div>
<div class="lg" style="left:80.8px;top:474.3px;transform:scale(1.02,1.12);transform-origin:0 50%;">200</div>
<div class="lg" style="left:68.0px;top:493.1px;transform:scale(1.02,1.12);transform-origin:0 50%;">100</div>
<div class="lg" style="left:94.2px;top:492.7px;font-size:17px;transform:scale(1.25,0.8);transform-origin:0 0;">~</div>
<div class="lg" style="left:112.8px;top:493.1px;transform:scale(1.02,1.12);transform-origin:0 50%;">200</div>
<div class="lg" style="left:68.0px;top:512.0px;transform:scale(1.02,1.12);transform-origin:0 50%;">50</div>
<div class="lg" style="left:87.8px;top:511.6px;font-size:17px;transform:scale(1.25,0.8);transform-origin:0 0;">~</div>
<div class="lg" style="left:106.4px;top:512.0px;transform:scale(1.02,1.12);transform-origin:0 50%;">100</div>
<div class="lg" style="left:68.0px;top:530.8px;transform:scale(1.02,1.12);transform-origin:0 50%;">20</div>
<div class="lg" style="left:87.8px;top:530.4px;font-size:17px;transform:scale(1.25,0.8);transform-origin:0 0;">~</div>
<div class="lg" style="left:106.4px;top:530.8px;transform:scale(1.02,1.12);transform-origin:0 50%;">50</div>
<div class="lg" style="left:68.0px;top:549.6px;transform:scale(1.02,1.12);transform-origin:0 50%;">0</div>
<div class="lg" style="left:81.4px;top:549.2px;font-size:17px;transform:scale(1.25,0.8);transform-origin:0 0;">~</div>
<div class="lg" style="left:100.0px;top:549.6px;transform:scale(1.02,1.12);transform-origin:0 50%;">20</div>
<div class="lg" style="left:68.0px;top:568.5px;transform:scale(1.02,1.12);transform-origin:0 50%;">-20</div>
<div class="lg" style="left:94.2px;top:568.0px;font-size:17px;transform:scale(1.25,0.8);transform-origin:0 0;">~</div>
<div class="lg" style="left:112.8px;top:568.5px;transform:scale(1.02,1.12);transform-origin:0 50%;">0</div>
<div class="lg" style="left:68.0px;top:587.3px;transform:scale(1.02,1.12);transform-origin:0 50%;">-50</div>
<div class="lg" style="left:94.2px;top:586.9px;font-size:17px;transform:scale(1.25,0.8);transform-origin:0 0;">~</div>
<div class="lg" style="left:112.8px;top:587.3px;transform:scale(1.02,1.12);transform-origin:0 50%;">-20</div>
<div class="lg" style="left:68.0px;top:606.1px;transform:scale(1.02,1.12);transform-origin:0 50%;">-80</div>
<div class="lg" style="left:94.2px;top:605.7px;font-size:17px;transform:scale(1.25,0.8);transform-origin:0 0;">~</div>
<div class="lg" style="left:112.8px;top:606.1px;transform:scale(1.02,1.12);transform-origin:0 50%;">-50</div>
<div class="lg" style="left:68.0px;top:624.9px;transform:scale(1.02,1.12);transform-origin:0 50%;">-100</div>
<div class="lg" style="left:100.6px;top:624.5px;font-size:17px;transform:scale(1.25,0.8);transform-origin:0 0;">~</div>
<div class="lg" style="left:119.2px;top:624.9px;transform:scale(1.02,1.12);transform-origin:0 50%;">-80</div>
<div class="city" style="left:221.4px;top:196.6px;">乌鲁木齐</div>
<div class="city" style="left:239.5px;top:417.5px;">拉萨</div>
<div class="city" style="left:378.0px;top:313.5px;">西宁</div>
<div class="city" style="left:420.0px;top:348.0px;">兰州</div>
<div class="city" style="left:454.0px;top:304.0px;">银川</div>
<div class="city" style="left:498.5px;top:247.5px;">呼和浩特</div>
<div class="city" style="left:570.5px;top:251.0px;">北京</div>
<div class="city" style="left:591.2px;top:284.0px;">天津</div>
<div class="city" style="left:555.8px;top:302.0px;">石家庄</div>
<div class="city" style="left:528.0px;top:306.5px;">太原</div>
<div class="city" style="left:594.0px;top:325.5px;">济南</div>
<div class="city" style="left:659.0px;top:227.6px;">沈阳</div>
<div class="city" style="left:675.0px;top:185.5px;">长春</div>
<div class="city" style="left:690.0px;top:136.5px;">哈尔滨</div>
<div class="city" style="left:490.4px;top:373.0px;">西安</div>
<div class="city" style="left:553.0px;top:360.3px;">郑州</div>
<div class="city" style="left:430.5px;top:432.7px;">成都</div>
<div class="city" style="left:469.0px;top:444.0px;">重庆</div>
<div class="city" style="left:461.6px;top:493.5px;">贵阳</div>
<div class="city" style="left:403.0px;top:525.4px;">昆明</div>
<div class="city" style="left:556.8px;top:407.7px;">武汉</div>
<div class="city" style="left:545.4px;top:470.2px;">长沙</div>
<div class="city" style="left:594.2px;top:458.0px;">南昌</div>
<div class="city" style="left:607.7px;top:403.8px;">合肥</div>
<div class="city" style="left:627.7px;top:392.7px;">南京</div>
<div class="city" style="left:669.0px;top:405.0px;">上海</div>
<div class="city" style="left:651.6px;top:422.8px;">杭州</div>
<div class="city" style="left:649.0px;top:495.0px;">福州</div>
<div class="city" style="left:677.0px;top:504.5px;">台北</div>
<div class="city" style="left:553.5px;top:533.8px;">广州</div>
<div class="city" style="left:584.0px;top:559.0px;">香港</div>
<div class="city" style="left:552.0px;top:564.0px;">澳门</div>
<div class="city" style="left:488.5px;top:561.5px;">南宁</div>
<div class="city" style="left:530.0px;top:598.0px;">海口</div>
<div class="sea" style="left:632.0px;top:255.5px;font-size:7px;">渤</div>
<div class="sea" style="left:619.5px;top:281.5px;font-size:7px;">海</div>
<div class="sea" style="left:687.0px;top:281.5px;font-size:7px;">黄</div>
<div class="sea" style="left:687.0px;top:338.5px;font-size:7px;">海</div>
<div class="sea" style="left:713.5px;top:425.5px;font-size:7px;">东</div>
<div class="sea" style="left:746.0px;top:425.5px;font-size:7px;">海</div>
<div class="sea" style="left:583.0px;top:607.0px;font-size:7px;">南</div>
<div class="sea" style="left:620.5px;top:607.0px;font-size:7px;">海</div>
<div class="sea" style="left:629.0px;top:578.5px;font-size:5.5px;color:#222;font-weight:normal;">东沙群岛</div>
<div class="sea" style="left:692.0px;top:477.5px;font-size:5.5px;color:#222;font-weight:normal;">钓鱼岛</div>
<div class="sea" style="left:717.0px;top:470.0px;font-size:5.5px;color:#222;font-weight:normal;">赤尾屿</div>
<div class="sea" style="left:674.5px;top:522.3px;font-size:5.3px;color:#222;font-weight:normal;">台湾岛</div>
<div class="city" style="left:795px;top:548.5px;font-size:14px;font-weight:bold;color:#3a9ad9;letter-spacing:7px;text-shadow:none;">南海</div>
<div class="city" style="left:812.5px;top:624.3px;font-size:9.3px;text-shadow:none;color:#444;">南海诸岛</div>
<div class="t" style="left:803px;top:635.6px;font-size:7.6px;letter-spacing:0.35px;font-weight:bold;color:#222;">1:40 000 000</div>
<div class="t" style="left:512.5px;top:611.5px;font-size:4.5px;color:#123;">海南岛</div>
</body></html>
